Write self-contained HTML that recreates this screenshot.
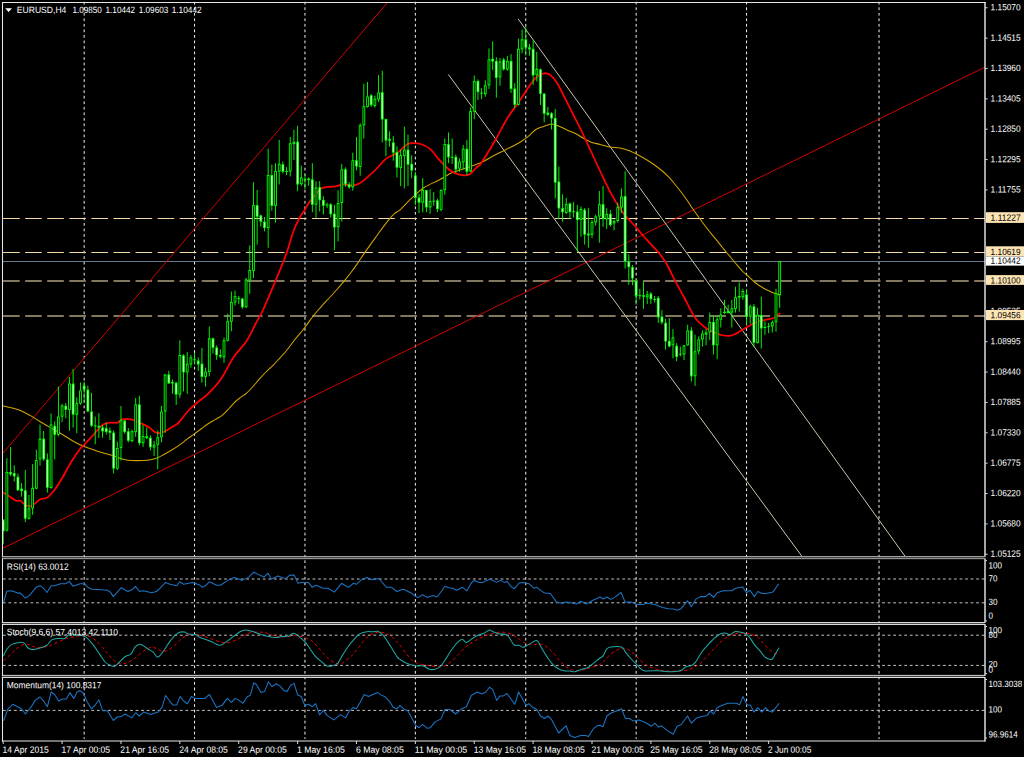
<!DOCTYPE html><html><head><meta charset="utf-8"><title>EURUSD,H4</title>
<style>html,body{margin:0;padding:0;background:#000;overflow:hidden}svg{display:block}text{font-family:"Liberation Sans",sans-serif;text-rendering:geometricPrecision}</style></head><body>
<svg width="1024" height="757" viewBox="0 0 1024 757">
<rect width="1024" height="757" fill="#000"/>
<line x1="84.16" y1="1.80" x2="84.16" y2="739.00" stroke="#ffffff" stroke-width="0.95" stroke-dasharray="2.77 2.76"/>
<line x1="194.56" y1="1.80" x2="194.56" y2="739.00" stroke="#ffffff" stroke-width="0.95" stroke-dasharray="2.77 2.76"/>
<line x1="304.96" y1="1.80" x2="304.96" y2="739.00" stroke="#ffffff" stroke-width="0.95" stroke-dasharray="2.77 2.76"/>
<line x1="415.36" y1="1.80" x2="415.36" y2="739.00" stroke="#ffffff" stroke-width="0.95" stroke-dasharray="2.77 2.76"/>
<line x1="525.76" y1="1.80" x2="525.76" y2="739.00" stroke="#ffffff" stroke-width="0.95" stroke-dasharray="2.77 2.76"/>
<line x1="636.16" y1="1.80" x2="636.16" y2="739.00" stroke="#ffffff" stroke-width="0.95" stroke-dasharray="2.77 2.76"/>
<line x1="746.56" y1="1.80" x2="746.56" y2="739.00" stroke="#ffffff" stroke-width="0.95" stroke-dasharray="2.77 2.76"/>
<line x1="879.04" y1="1.80" x2="879.04" y2="739.00" stroke="#ffffff" stroke-width="0.95" stroke-dasharray="2.77 2.76"/>
<line x1="2.90" y1="579.00" x2="985.00" y2="579.00" stroke="#cfcfcf" stroke-width="0.95" stroke-dasharray="2.77 2.76"/>
<line x1="2.90" y1="602.80" x2="985.00" y2="602.80" stroke="#cfcfcf" stroke-width="0.95" stroke-dasharray="2.77 2.76"/>
<line x1="2.90" y1="635.20" x2="985.00" y2="635.20" stroke="#cfcfcf" stroke-width="0.95" stroke-dasharray="2.77 2.76"/>
<line x1="2.90" y1="665.40" x2="985.00" y2="665.40" stroke="#cfcfcf" stroke-width="0.95" stroke-dasharray="2.77 2.76"/>
<line x1="2.90" y1="710.40" x2="985.00" y2="710.40" stroke="#cfcfcf" stroke-width="0.95" stroke-dasharray="2.77 2.76"/>
<line x1="3.10" y1="218.50" x2="985.00" y2="218.50" stroke="#f5d9a4" stroke-width="1.1" stroke-dasharray="16.6 5.47"/>
<line x1="3.10" y1="252.50" x2="985.00" y2="252.50" stroke="#f5d9a4" stroke-width="1.1" stroke-dasharray="16.6 5.47"/>
<line x1="2.90" y1="261.50" x2="985.00" y2="261.50" stroke="#66788c" stroke-width="1.2"/>
<line x1="3.10" y1="281.00" x2="985.00" y2="281.00" stroke="#82775f" stroke-width="2.0" stroke-dasharray="16.6 5.47"/>
<line x1="3.10" y1="316.00" x2="985.00" y2="316.00" stroke="#82775f" stroke-width="2.0" stroke-dasharray="16.6 5.47"/>
<clipPath id="cm"><rect x="2.9" y="2.4" width="982" height="554"/></clipPath>
<g clip-path="url(#cm)">
<line x1="3.00" y1="548.20" x2="984.40" y2="67.40" stroke="#d40000" stroke-width="1.0"/>
<line x1="3.00" y1="453.20" x2="387.40" y2="2.60" stroke="#d40000" stroke-width="1.0"/>
<line x1="448.20" y1="74.30" x2="801.90" y2="556.30" stroke="#c9c6ac" stroke-width="1.0"/>
<line x1="518.20" y1="19.00" x2="905.00" y2="556.20" stroke="#c9c6ac" stroke-width="1.0"/>
<path d="M2.6 405.8 C3.8 406.1 7.0 406.6 10.0 407.4 C13.0 408.2 17.1 409.2 20.4 410.5 C23.7 411.8 26.8 413.6 30.0 415.4 C33.2 417.2 36.3 419.4 39.5 421.3 C42.7 423.2 45.3 424.8 49.0 426.9 C52.7 429.0 57.0 431.2 61.7 434.0 C66.5 436.8 72.2 440.9 77.5 443.5 C82.8 446.1 89.3 448.3 93.4 449.8 C97.5 451.3 98.8 451.6 102.0 452.5 C105.2 453.4 109.6 454.5 112.7 455.5 C115.8 456.5 118.1 457.8 120.6 458.6 C123.1 459.4 125.0 459.9 127.7 460.2 C130.4 460.5 133.7 460.6 137.0 460.6 C140.3 460.6 144.4 460.5 147.5 460.2 C150.6 459.9 152.8 459.5 155.5 458.6 C158.2 457.7 160.8 456.2 163.4 454.8 C166.0 453.4 168.5 452.0 171.3 450.3 C174.1 448.6 177.4 446.5 180.0 444.6 C182.6 442.8 184.6 441.0 187.0 439.2 C189.4 437.4 192.0 435.6 194.3 433.9 C196.6 432.2 198.6 430.7 201.0 429.0 C203.4 427.3 206.1 425.1 208.5 423.5 C210.9 421.9 213.1 420.8 215.5 419.4 C217.9 417.9 220.6 416.6 222.8 414.8 C225.1 413.0 226.9 410.7 229.0 408.5 C231.1 406.3 233.5 403.4 235.5 401.5 C237.5 399.6 239.2 398.6 241.0 397.2 C242.8 395.8 244.6 395.0 246.6 393.2 C248.6 391.4 250.9 388.8 253.0 386.5 C255.1 384.2 257.1 381.6 259.3 379.2 C261.5 376.8 263.6 374.4 266.0 372.0 C268.4 369.6 271.1 367.3 273.5 364.9 C275.9 362.4 278.1 359.9 280.5 357.3 C282.9 354.7 285.5 351.9 287.8 349.0 C290.1 346.1 292.0 343.2 294.5 340.0 C297.0 336.8 299.8 334.0 302.9 330.0 C306.0 326.0 310.3 319.8 313.3 315.9 C316.3 312.0 318.4 309.8 321.0 306.8 C323.6 303.8 326.6 300.8 329.2 298.0 C331.8 295.2 334.0 292.8 336.5 290.0 C339.0 287.2 341.6 284.2 344.1 281.2 C346.6 278.2 349.0 275.1 351.5 271.8 C354.0 268.5 356.7 264.6 358.9 261.4 C361.1 258.2 361.6 257.1 364.9 252.4 C368.1 247.8 374.6 238.8 378.4 233.5 C382.2 228.2 385.1 224.2 387.9 220.8 C390.7 217.4 393.0 215.0 395.0 213.2 C397.0 211.4 397.1 212.5 400.0 209.8 C402.9 207.1 408.7 200.9 412.7 197.2 C416.7 193.5 419.3 190.6 423.8 187.7 C428.3 184.8 434.9 182.2 439.6 179.7 C444.4 177.2 447.8 174.6 452.3 172.6 C456.8 170.6 462.0 169.4 466.6 167.8 C471.2 166.2 475.3 165.1 480.0 163.0 C484.7 160.9 490.0 157.6 495.0 155.0 C500.0 152.4 505.8 149.6 510.0 147.5 C514.2 145.4 517.0 144.0 520.0 142.2 C523.0 140.4 525.4 138.8 528.0 136.7 C530.6 134.6 533.2 131.2 535.8 129.5 C538.4 127.8 541.1 127.3 543.8 126.4 C546.4 125.5 549.1 124.0 551.7 124.0 C554.3 124.0 557.0 125.4 559.6 126.4 C562.2 127.5 564.9 129.1 567.5 130.3 C570.1 131.5 572.9 132.2 575.5 133.5 C578.1 134.8 580.8 136.9 583.4 138.3 C586.0 139.8 588.5 141.2 591.3 142.2 C594.1 143.2 597.1 143.6 600.2 144.4 C603.3 145.2 606.4 146.5 609.7 147.1 C613.0 147.7 616.6 147.3 620.0 148.0 C623.4 148.7 626.7 149.7 630.0 151.0 C633.3 152.3 637.2 154.5 640.0 156.0 C642.8 157.5 644.1 158.2 647.0 160.0 C649.9 161.8 653.7 164.2 657.3 167.0 C660.9 169.8 665.2 173.4 668.4 176.6 C671.6 179.8 673.5 182.6 676.3 186.0 C679.1 189.4 682.5 193.8 685.0 197.2 C687.5 200.6 688.9 203.2 691.0 206.3 C693.1 209.4 695.4 212.4 697.7 215.7 C700.0 218.9 702.5 222.5 705.0 225.8 C707.5 229.1 710.6 233.0 712.8 235.7 C715.0 238.4 716.4 239.8 718.0 241.8 C719.6 243.8 720.9 245.6 722.5 247.5 C724.1 249.4 725.5 251.1 727.5 253.5 C729.5 255.9 732.0 259.1 734.5 262.0 C737.0 264.9 740.0 268.7 742.3 271.0 C744.5 273.3 745.9 274.1 748.0 276.0 C750.1 277.9 752.2 280.4 755.0 282.5 C757.8 284.6 761.4 287.0 764.6 288.8 C767.8 290.6 771.6 292.0 774.1 293.1 C776.6 294.2 778.8 294.9 779.7 295.2" fill="none" stroke="#d2a400" stroke-width="1.05" stroke-linejoin="round"/>
<path d="M3.0 492.6 C4.1 493.3 7.4 495.3 9.5 496.6 C11.6 497.9 14.0 499.8 15.8 500.5 C17.7 501.2 18.9 500.2 20.6 501.0 C22.3 501.8 24.1 504.5 26.0 505.3 C27.9 506.1 29.4 506.9 31.7 506.0 C34.0 505.1 37.0 501.1 39.6 499.7 C42.2 498.3 44.9 499.2 47.5 497.4 C50.1 495.5 52.9 492.2 55.5 488.6 C58.1 485.0 60.8 480.5 63.4 476.0 C66.0 471.5 68.5 466.2 71.3 461.7 C74.1 457.2 77.9 451.8 80.0 449.0 C82.1 446.2 81.7 447.4 83.9 445.0 C86.1 442.6 90.5 438.0 93.4 434.8 C96.3 431.6 99.2 427.7 101.3 425.8 C103.4 423.9 104.5 423.7 106.3 423.2 C108.1 422.7 110.2 422.7 112.0 422.6 C113.8 422.5 115.7 423.1 117.4 422.6 C119.1 422.1 120.4 420.0 122.2 419.4 C124.0 418.8 126.2 419.1 128.0 419.2 C129.8 419.3 131.1 419.3 133.3 420.0 C135.5 420.7 138.6 422.2 141.2 423.4 C143.8 424.6 146.8 426.0 149.1 427.4 C151.3 428.8 153.0 431.0 154.7 432.0 C156.4 433.0 157.7 433.3 159.4 433.2 C161.1 433.1 163.0 432.3 165.0 431.3 C167.0 430.3 169.3 428.6 171.3 427.4 C173.3 426.2 175.5 425.3 176.9 424.2 C178.3 423.1 178.0 423.4 180.0 421.0 C182.0 418.6 186.0 413.2 189.0 410.0 C192.0 406.8 194.8 404.7 198.0 402.0 C201.2 399.3 204.2 397.6 208.0 393.8 C211.8 390.1 216.5 385.6 220.7 379.5 C224.9 373.4 229.4 363.3 233.4 357.4 C237.4 351.5 241.7 347.6 244.5 343.9 C247.3 340.2 248.1 338.7 250.0 335.2 C251.9 331.7 253.8 327.2 256.0 323.0 C258.2 318.8 259.7 317.1 263.0 310.0 C266.3 302.9 271.7 289.9 275.7 280.3 C279.7 270.7 283.9 260.6 286.8 252.6 C289.7 244.5 290.9 237.9 293.1 232.0 C295.3 226.1 298.0 220.7 300.0 217.0 C302.0 213.3 303.6 212.1 305.0 209.8 C306.4 207.6 306.8 205.9 308.4 203.5 C310.0 201.1 312.5 198.1 314.7 195.6 C316.9 193.1 319.1 190.0 321.3 188.5 C323.5 187.0 325.6 187.2 328.0 186.8 C330.4 186.4 333.0 186.7 335.6 186.3 C338.2 185.9 341.1 184.6 343.5 184.4 C345.9 184.2 348.1 185.3 350.0 185.4 C351.9 185.5 352.9 185.6 354.6 185.2 C356.3 184.8 358.1 184.1 360.0 183.0 C361.9 181.9 362.9 181.2 365.7 178.8 C368.5 176.4 373.6 171.7 376.8 168.5 C380.0 165.3 382.2 162.0 384.7 159.8 C387.2 157.6 389.7 156.8 392.0 155.5 C394.3 154.2 396.6 153.3 398.6 151.9 C400.6 150.5 402.4 148.3 404.0 147.0 C405.6 145.7 406.6 144.4 408.1 143.8 C409.6 143.2 410.8 143.2 412.9 143.2 C415.0 143.2 417.8 143.1 420.6 144.0 C423.5 144.9 427.1 146.4 430.0 148.8 C432.9 151.2 435.3 155.3 438.0 158.3 C440.7 161.3 443.4 164.6 446.0 167.0 C448.6 169.4 451.0 171.2 453.9 172.6 C456.8 174.0 460.8 175.0 463.4 175.3 C466.0 175.6 467.6 175.4 469.7 174.2 C471.8 172.9 474.3 169.4 476.0 167.8 C477.7 166.2 478.2 167.0 480.0 164.7 C481.8 162.4 484.4 158.1 487.0 154.0 C489.6 149.9 492.0 145.9 495.4 140.0 C498.8 134.1 503.5 124.6 507.3 118.3 C511.1 112.0 515.0 107.4 518.4 102.4 C521.8 97.4 525.5 91.7 527.9 88.1 C530.3 84.5 531.4 82.9 533.0 81.0 C534.6 79.1 535.6 77.8 537.4 76.5 C539.2 75.2 541.7 73.6 543.8 73.3 C545.9 73.0 548.0 73.5 550.1 74.9 C552.2 76.4 554.1 78.3 556.5 82.0 C558.9 85.7 561.5 91.3 564.4 97.0 C567.3 102.7 570.7 109.7 573.9 116.0 C577.1 122.3 580.0 127.8 583.4 135.0 C586.8 142.2 591.2 151.8 594.5 159.0 C597.8 166.2 600.6 172.2 603.4 178.0 C606.2 183.8 608.4 188.6 611.3 193.9 C614.2 199.2 617.9 205.8 620.8 210.0 C623.7 214.2 626.1 216.4 628.8 219.4 C631.4 222.4 633.8 224.8 636.7 228.1 C639.6 231.4 642.8 235.4 646.2 239.2 C649.6 243.0 654.0 247.2 657.3 251.1 C660.6 255.0 663.0 257.6 666.0 262.7 C669.0 267.8 672.6 276.1 675.5 281.7 C678.4 287.2 680.7 291.0 683.4 296.0 C686.1 301.0 689.6 308.0 691.5 311.5 C693.4 315.0 693.1 315.1 694.5 317.0 C695.9 318.9 697.4 320.8 699.6 322.8 C701.8 324.8 704.9 327.4 707.5 329.1 C710.1 330.8 712.9 332.0 715.5 333.1 C718.1 334.2 721.0 335.1 723.4 335.5 C725.8 335.9 727.6 336.1 729.7 335.8 C731.8 335.5 734.1 334.4 736.0 333.6 C737.9 332.8 738.7 332.1 740.8 330.8 C742.9 329.5 746.1 327.5 748.8 326.0 C751.4 324.5 753.8 323.1 756.7 322.0 C759.6 320.9 763.3 320.4 766.2 319.7 C769.1 319.0 771.9 318.9 774.1 317.8 C776.4 316.8 778.8 314.1 779.7 313.4" fill="none" stroke="#ff0000" stroke-width="1.75" stroke-linejoin="round" stroke-linecap="round"/>
<rect x="2.74" y="519.5" width="0.92" height="24.6" fill="#00ff00"/>
<rect x="1.82" y="519.5" width="2.76" height="11.9" fill="#00ff00"/>
<rect x="2.74" y="520.5" width="0.92" height="10.0" fill="#f0fff0"/>
<rect x="6.42" y="458.2" width="0.92" height="73.2" fill="#00ff00"/>
<rect x="5.50" y="472.0" width="2.76" height="58.6" fill="#00ff00"/>
<rect x="6.42" y="472.9" width="0.92" height="56.8" fill="#000"/>
<rect x="10.10" y="447.1" width="0.92" height="28.8" fill="#00ff00"/>
<rect x="9.18" y="472.0" width="2.76" height="2.4" fill="#00ff00"/>
<rect x="10.10" y="472.9" width="0.92" height="0.5" fill="#f0fff0"/>
<rect x="13.78" y="465.2" width="0.92" height="16.3" fill="#00ff00"/>
<rect x="12.86" y="473.1" width="2.76" height="3.2" fill="#00ff00"/>
<rect x="13.78" y="474.0" width="0.92" height="1.3" fill="#f0fff0"/>
<rect x="17.46" y="473.6" width="0.92" height="17.4" fill="#00ff00"/>
<rect x="16.54" y="476.8" width="2.76" height="13.5" fill="#00ff00"/>
<rect x="17.46" y="477.7" width="0.92" height="11.6" fill="#f0fff0"/>
<rect x="21.14" y="483.1" width="0.92" height="13.5" fill="#00ff00"/>
<rect x="20.22" y="488.6" width="2.76" height="2.4" fill="#00ff00"/>
<rect x="21.14" y="489.6" width="0.92" height="0.5" fill="#f0fff0"/>
<rect x="24.82" y="469.9" width="0.92" height="52.3" fill="#00ff00"/>
<rect x="23.90" y="490.2" width="2.76" height="28.5" fill="#00ff00"/>
<rect x="24.82" y="491.1" width="0.92" height="26.7" fill="#f0fff0"/>
<rect x="28.50" y="495.0" width="0.92" height="24.6" fill="#00ff00"/>
<rect x="27.58" y="508.4" width="2.76" height="10.3" fill="#00ff00"/>
<rect x="28.50" y="509.4" width="0.92" height="8.5" fill="#000"/>
<rect x="32.18" y="464.1" width="0.92" height="50.7" fill="#00ff00"/>
<rect x="31.26" y="487.8" width="2.76" height="20.6" fill="#00ff00"/>
<rect x="32.18" y="488.8" width="0.92" height="18.8" fill="#000"/>
<rect x="35.86" y="449.8" width="0.92" height="39.6" fill="#00ff00"/>
<rect x="34.94" y="460.1" width="2.76" height="28.5" fill="#00ff00"/>
<rect x="35.86" y="461.0" width="0.92" height="26.7" fill="#000"/>
<rect x="39.54" y="424.5" width="0.92" height="41.2" fill="#00ff00"/>
<rect x="38.62" y="438.7" width="2.76" height="20.6" fill="#00ff00"/>
<rect x="39.54" y="439.7" width="0.92" height="18.8" fill="#000"/>
<rect x="43.22" y="430.8" width="0.92" height="30.1" fill="#00ff00"/>
<rect x="42.30" y="438.7" width="2.76" height="20.6" fill="#00ff00"/>
<rect x="43.22" y="439.7" width="0.92" height="18.8" fill="#f0fff0"/>
<rect x="46.90" y="453.5" width="0.92" height="39.1" fill="#00ff00"/>
<rect x="45.98" y="459.3" width="2.76" height="28.5" fill="#00ff00"/>
<rect x="46.90" y="460.2" width="0.92" height="26.7" fill="#f0fff0"/>
<rect x="50.58" y="413.4" width="0.92" height="75.3" fill="#00ff00"/>
<rect x="49.66" y="424.5" width="2.76" height="63.4" fill="#00ff00"/>
<rect x="50.58" y="425.4" width="0.92" height="61.6" fill="#000"/>
<rect x="54.26" y="421.3" width="0.92" height="38.0" fill="#00ff00"/>
<rect x="53.34" y="425.8" width="2.76" height="9.0" fill="#00ff00"/>
<rect x="54.26" y="426.7" width="0.92" height="7.2" fill="#f0fff0"/>
<rect x="57.94" y="386.5" width="0.92" height="49.9" fill="#00ff00"/>
<rect x="57.02" y="416.6" width="2.76" height="18.2" fill="#00ff00"/>
<rect x="57.94" y="417.5" width="0.92" height="16.4" fill="#000"/>
<rect x="61.62" y="403.9" width="0.92" height="18.2" fill="#00ff00"/>
<rect x="60.70" y="405.5" width="2.76" height="11.1" fill="#00ff00"/>
<rect x="61.62" y="406.4" width="0.92" height="9.3" fill="#000"/>
<rect x="65.30" y="403.1" width="0.92" height="15.1" fill="#00ff00"/>
<rect x="64.38" y="405.8" width="2.76" height="4.1" fill="#00ff00"/>
<rect x="65.30" y="406.7" width="0.92" height="2.3" fill="#f0fff0"/>
<rect x="68.98" y="376.9" width="0.92" height="53.9" fill="#00ff00"/>
<rect x="68.06" y="383.6" width="2.76" height="26.3" fill="#00ff00"/>
<rect x="68.98" y="384.5" width="0.92" height="24.5" fill="#000"/>
<rect x="72.66" y="369.0" width="0.92" height="58.6" fill="#00ff00"/>
<rect x="71.74" y="383.6" width="2.76" height="31.1" fill="#00ff00"/>
<rect x="72.66" y="384.5" width="0.92" height="29.2" fill="#f0fff0"/>
<rect x="76.34" y="397.2" width="0.92" height="36.0" fill="#00ff00"/>
<rect x="75.42" y="403.1" width="2.76" height="11.6" fill="#00ff00"/>
<rect x="76.34" y="404.0" width="0.92" height="9.7" fill="#000"/>
<rect x="80.02" y="382.5" width="0.92" height="22.2" fill="#00ff00"/>
<rect x="79.10" y="390.4" width="2.76" height="13.2" fill="#00ff00"/>
<rect x="80.02" y="391.3" width="0.92" height="11.3" fill="#000"/>
<rect x="83.70" y="381.7" width="0.92" height="21.4" fill="#00ff00"/>
<rect x="82.78" y="385.7" width="2.76" height="4.0" fill="#00ff00"/>
<rect x="83.70" y="386.6" width="0.92" height="2.1" fill="#f0fff0"/>
<rect x="87.38" y="385.7" width="0.92" height="26.1" fill="#00ff00"/>
<rect x="86.46" y="389.6" width="2.76" height="21.9" fill="#00ff00"/>
<rect x="87.38" y="390.5" width="0.92" height="20.0" fill="#f0fff0"/>
<rect x="91.06" y="392.8" width="0.92" height="34.1" fill="#00ff00"/>
<rect x="90.14" y="411.5" width="2.76" height="14.3" fill="#00ff00"/>
<rect x="91.06" y="412.4" width="0.92" height="12.4" fill="#f0fff0"/>
<rect x="94.74" y="416.6" width="0.92" height="27.7" fill="#00ff00"/>
<rect x="93.82" y="425.3" width="2.76" height="1.1" fill="#00ff00"/>
<rect x="98.42" y="413.1" width="0.92" height="24.9" fill="#00ff00"/>
<rect x="97.50" y="425.8" width="2.76" height="1.9" fill="#00ff00"/>
<rect x="102.10" y="425.0" width="0.92" height="12.7" fill="#00ff00"/>
<rect x="101.18" y="427.4" width="2.76" height="4.0" fill="#00ff00"/>
<rect x="102.10" y="428.3" width="0.92" height="2.1" fill="#f0fff0"/>
<rect x="105.78" y="422.6" width="0.92" height="11.9" fill="#00ff00"/>
<rect x="104.86" y="428.1" width="2.76" height="4.0" fill="#00ff00"/>
<rect x="105.78" y="429.1" width="0.92" height="2.1" fill="#f0fff0"/>
<rect x="109.46" y="427.4" width="0.92" height="12.7" fill="#00ff00"/>
<rect x="108.54" y="430.5" width="2.76" height="2.4" fill="#00ff00"/>
<rect x="109.46" y="431.4" width="0.92" height="0.5" fill="#f0fff0"/>
<rect x="113.14" y="430.5" width="0.92" height="42.8" fill="#00ff00"/>
<rect x="112.22" y="432.6" width="2.76" height="36.0" fill="#00ff00"/>
<rect x="113.14" y="433.5" width="0.92" height="34.1" fill="#f0fff0"/>
<rect x="116.82" y="441.6" width="0.92" height="28.5" fill="#00ff00"/>
<rect x="115.90" y="448.0" width="2.76" height="20.6" fill="#00ff00"/>
<rect x="116.82" y="448.9" width="0.92" height="18.8" fill="#000"/>
<rect x="120.50" y="406.0" width="0.92" height="54.7" fill="#00ff00"/>
<rect x="119.58" y="420.2" width="2.76" height="27.7" fill="#00ff00"/>
<rect x="120.50" y="421.1" width="0.92" height="25.9" fill="#000"/>
<rect x="124.18" y="420.2" width="0.92" height="13.5" fill="#00ff00"/>
<rect x="123.26" y="420.5" width="2.76" height="11.6" fill="#00ff00"/>
<rect x="124.18" y="421.5" width="0.92" height="9.7" fill="#f0fff0"/>
<rect x="127.86" y="428.1" width="0.92" height="14.3" fill="#00ff00"/>
<rect x="126.94" y="431.3" width="2.76" height="9.5" fill="#00ff00"/>
<rect x="127.86" y="432.2" width="0.92" height="7.7" fill="#f0fff0"/>
<rect x="131.54" y="429.7" width="0.92" height="12.7" fill="#00ff00"/>
<rect x="130.62" y="431.3" width="2.76" height="9.8" fill="#00ff00"/>
<rect x="131.54" y="432.2" width="0.92" height="8.0" fill="#000"/>
<rect x="135.22" y="398.0" width="0.92" height="38.8" fill="#00ff00"/>
<rect x="134.30" y="404.4" width="2.76" height="27.7" fill="#00ff00"/>
<rect x="135.22" y="405.3" width="0.92" height="25.9" fill="#000"/>
<rect x="138.90" y="395.7" width="0.92" height="49.9" fill="#00ff00"/>
<rect x="137.98" y="404.4" width="2.76" height="38.8" fill="#00ff00"/>
<rect x="138.90" y="405.3" width="0.92" height="37.0" fill="#f0fff0"/>
<rect x="142.58" y="425.0" width="0.92" height="21.9" fill="#00ff00"/>
<rect x="141.66" y="436.1" width="2.76" height="7.1" fill="#00ff00"/>
<rect x="142.58" y="437.0" width="0.92" height="5.3" fill="#000"/>
<rect x="146.26" y="427.4" width="0.92" height="11.9" fill="#00ff00"/>
<rect x="145.34" y="436.1" width="2.76" height="1.9" fill="#00ff00"/>
<rect x="149.94" y="435.3" width="0.92" height="15.1" fill="#00ff00"/>
<rect x="149.02" y="437.7" width="2.76" height="9.5" fill="#00ff00"/>
<rect x="149.94" y="438.6" width="0.92" height="7.7" fill="#f0fff0"/>
<rect x="153.62" y="440.8" width="0.92" height="15.1" fill="#00ff00"/>
<rect x="152.70" y="444.8" width="2.76" height="2.7" fill="#00ff00"/>
<rect x="153.62" y="445.7" width="0.92" height="0.9" fill="#000"/>
<rect x="157.30" y="430.5" width="0.92" height="38.8" fill="#00ff00"/>
<rect x="156.38" y="437.3" width="2.76" height="7.4" fill="#00ff00"/>
<rect x="157.30" y="438.3" width="0.92" height="5.6" fill="#000"/>
<rect x="160.98" y="406.0" width="0.92" height="36.1" fill="#00ff00"/>
<rect x="160.06" y="411.5" width="2.76" height="25.8" fill="#00ff00"/>
<rect x="160.98" y="412.4" width="0.92" height="24.0" fill="#000"/>
<rect x="164.66" y="373.9" width="0.92" height="59.0" fill="#00ff00"/>
<rect x="163.74" y="374.6" width="2.76" height="36.9" fill="#00ff00"/>
<rect x="164.66" y="375.5" width="0.92" height="35.1" fill="#000"/>
<rect x="168.34" y="370.8" width="0.92" height="13.0" fill="#00ff00"/>
<rect x="167.42" y="374.3" width="2.76" height="9.2" fill="#00ff00"/>
<rect x="168.34" y="375.2" width="0.92" height="7.4" fill="#f0fff0"/>
<rect x="172.02" y="379.5" width="0.92" height="14.3" fill="#00ff00"/>
<rect x="171.10" y="381.9" width="2.76" height="1.6" fill="#00ff00"/>
<rect x="175.70" y="381.9" width="0.92" height="23.0" fill="#00ff00"/>
<rect x="174.78" y="382.7" width="2.76" height="11.9" fill="#00ff00"/>
<rect x="175.70" y="383.6" width="0.92" height="10.0" fill="#f0fff0"/>
<rect x="179.38" y="340.4" width="0.92" height="57.4" fill="#00ff00"/>
<rect x="178.46" y="355.0" width="2.76" height="39.6" fill="#00ff00"/>
<rect x="179.38" y="355.9" width="0.92" height="37.8" fill="#000"/>
<rect x="183.06" y="354.2" width="0.92" height="37.2" fill="#00ff00"/>
<rect x="182.14" y="355.3" width="2.76" height="17.1" fill="#00ff00"/>
<rect x="183.06" y="356.2" width="0.92" height="15.3" fill="#f0fff0"/>
<rect x="186.74" y="352.1" width="0.92" height="41.7" fill="#00ff00"/>
<rect x="185.82" y="363.7" width="2.76" height="8.7" fill="#00ff00"/>
<rect x="186.74" y="364.6" width="0.92" height="6.9" fill="#000"/>
<rect x="190.42" y="355.0" width="0.92" height="12.7" fill="#00ff00"/>
<rect x="189.50" y="357.4" width="2.76" height="7.1" fill="#00ff00"/>
<rect x="190.42" y="358.3" width="0.92" height="5.3" fill="#000"/>
<rect x="194.10" y="352.6" width="0.92" height="11.9" fill="#00ff00"/>
<rect x="193.18" y="359.3" width="2.76" height="0.95" fill="#00ff00"/>
<rect x="197.78" y="357.4" width="0.92" height="13.5" fill="#00ff00"/>
<rect x="196.86" y="360.5" width="2.76" height="4.0" fill="#00ff00"/>
<rect x="197.78" y="361.4" width="0.92" height="2.1" fill="#f0fff0"/>
<rect x="201.46" y="347.8" width="0.92" height="34.9" fill="#00ff00"/>
<rect x="200.54" y="363.7" width="2.76" height="13.2" fill="#00ff00"/>
<rect x="201.46" y="364.6" width="0.92" height="11.3" fill="#f0fff0"/>
<rect x="205.14" y="367.7" width="0.92" height="19.0" fill="#00ff00"/>
<rect x="204.22" y="371.6" width="2.76" height="5.2" fill="#00ff00"/>
<rect x="205.14" y="372.5" width="0.92" height="3.4" fill="#000"/>
<rect x="208.82" y="326.5" width="0.92" height="49.9" fill="#00ff00"/>
<rect x="207.90" y="338.3" width="2.76" height="33.8" fill="#00ff00"/>
<rect x="208.82" y="339.3" width="0.92" height="31.9" fill="#000"/>
<rect x="212.50" y="337.5" width="0.92" height="15.8" fill="#00ff00"/>
<rect x="211.58" y="338.3" width="2.76" height="9.5" fill="#00ff00"/>
<rect x="212.50" y="339.3" width="0.92" height="7.7" fill="#f0fff0"/>
<rect x="216.18" y="345.5" width="0.92" height="14.3" fill="#00ff00"/>
<rect x="215.26" y="347.4" width="2.76" height="7.9" fill="#00ff00"/>
<rect x="216.18" y="348.3" width="0.92" height="6.1" fill="#f0fff0"/>
<rect x="219.86" y="349.4" width="0.92" height="8.7" fill="#00ff00"/>
<rect x="218.94" y="355.0" width="2.76" height="1.6" fill="#00ff00"/>
<rect x="223.54" y="337.5" width="0.92" height="25.4" fill="#00ff00"/>
<rect x="222.62" y="340.4" width="2.76" height="17.0" fill="#00ff00"/>
<rect x="223.54" y="341.3" width="0.92" height="15.1" fill="#000"/>
<rect x="227.22" y="313.8" width="0.92" height="27.7" fill="#00ff00"/>
<rect x="226.30" y="321.2" width="2.76" height="19.5" fill="#00ff00"/>
<rect x="227.22" y="322.1" width="0.92" height="17.7" fill="#000"/>
<rect x="230.90" y="291.6" width="0.92" height="39.6" fill="#00ff00"/>
<rect x="229.98" y="301.9" width="2.76" height="19.8" fill="#00ff00"/>
<rect x="230.90" y="302.8" width="0.92" height="18.0" fill="#000"/>
<rect x="234.58" y="290.6" width="0.92" height="15.1" fill="#00ff00"/>
<rect x="233.66" y="296.2" width="2.76" height="6.3" fill="#00ff00"/>
<rect x="234.58" y="297.1" width="0.92" height="4.5" fill="#000"/>
<rect x="238.26" y="295.9" width="0.92" height="8.2" fill="#00ff00"/>
<rect x="237.34" y="298.1" width="2.76" height="0.95" fill="#00ff00"/>
<rect x="241.94" y="297.8" width="0.92" height="11.1" fill="#00ff00"/>
<rect x="241.02" y="298.6" width="2.76" height="8.7" fill="#00ff00"/>
<rect x="241.94" y="299.5" width="0.92" height="6.9" fill="#f0fff0"/>
<rect x="245.62" y="278.0" width="0.92" height="30.1" fill="#00ff00"/>
<rect x="244.70" y="279.5" width="2.76" height="27.7" fill="#00ff00"/>
<rect x="245.62" y="280.5" width="0.92" height="25.9" fill="#000"/>
<rect x="249.30" y="245.5" width="0.92" height="48.3" fill="#00ff00"/>
<rect x="248.38" y="270.0" width="2.76" height="10.3" fill="#00ff00"/>
<rect x="249.30" y="271.0" width="0.92" height="8.5" fill="#000"/>
<rect x="252.98" y="182.1" width="0.92" height="95.9" fill="#00ff00"/>
<rect x="252.06" y="205.1" width="2.76" height="65.8" fill="#00ff00"/>
<rect x="252.98" y="206.0" width="0.92" height="63.9" fill="#000"/>
<rect x="256.66" y="190.0" width="0.92" height="54.7" fill="#00ff00"/>
<rect x="255.74" y="205.1" width="2.76" height="11.7" fill="#00ff00"/>
<rect x="256.66" y="206.0" width="0.92" height="9.9" fill="#f0fff0"/>
<rect x="260.34" y="214.6" width="0.92" height="11.9" fill="#00ff00"/>
<rect x="259.42" y="215.4" width="2.76" height="6.3" fill="#00ff00"/>
<rect x="260.34" y="216.3" width="0.92" height="4.5" fill="#f0fff0"/>
<rect x="264.02" y="217.0" width="0.92" height="14.3" fill="#00ff00"/>
<rect x="263.10" y="221.7" width="2.76" height="6.3" fill="#00ff00"/>
<rect x="264.02" y="222.6" width="0.92" height="4.5" fill="#f0fff0"/>
<rect x="267.70" y="148.8" width="0.92" height="99.0" fill="#00ff00"/>
<rect x="266.78" y="175.0" width="2.76" height="53.1" fill="#00ff00"/>
<rect x="267.70" y="175.9" width="0.92" height="51.3" fill="#000"/>
<rect x="271.38" y="164.7" width="0.92" height="46.0" fill="#00ff00"/>
<rect x="270.46" y="175.0" width="2.76" height="30.9" fill="#00ff00"/>
<rect x="271.38" y="175.9" width="0.92" height="29.1" fill="#f0fff0"/>
<rect x="275.06" y="163.1" width="0.92" height="59.4" fill="#00ff00"/>
<rect x="274.14" y="171.0" width="2.76" height="34.9" fill="#00ff00"/>
<rect x="275.06" y="171.9" width="0.92" height="33.0" fill="#000"/>
<rect x="278.74" y="139.8" width="0.92" height="44.7" fill="#00ff00"/>
<rect x="277.82" y="163.9" width="2.76" height="7.6" fill="#00ff00"/>
<rect x="278.74" y="164.8" width="0.92" height="5.8" fill="#000"/>
<rect x="282.42" y="161.5" width="0.92" height="11.9" fill="#00ff00"/>
<rect x="281.50" y="164.2" width="2.76" height="7.6" fill="#00ff00"/>
<rect x="282.42" y="165.1" width="0.92" height="5.8" fill="#f0fff0"/>
<rect x="286.10" y="167.1" width="0.92" height="7.9" fill="#00ff00"/>
<rect x="285.18" y="171.0" width="2.76" height="0.95" fill="#00ff00"/>
<rect x="289.78" y="136.9" width="0.92" height="39.6" fill="#00ff00"/>
<rect x="288.86" y="143.3" width="2.76" height="28.2" fill="#00ff00"/>
<rect x="289.78" y="144.2" width="0.92" height="26.4" fill="#000"/>
<rect x="293.46" y="129.8" width="0.92" height="30.1" fill="#00ff00"/>
<rect x="292.54" y="141.7" width="2.76" height="2.4" fill="#00ff00"/>
<rect x="293.46" y="142.6" width="0.92" height="0.5" fill="#000"/>
<rect x="297.14" y="125.8" width="0.92" height="65.3" fill="#00ff00"/>
<rect x="296.22" y="141.7" width="2.76" height="42.8" fill="#00ff00"/>
<rect x="297.14" y="142.6" width="0.92" height="40.9" fill="#f0fff0"/>
<rect x="300.82" y="165.5" width="0.92" height="20.3" fill="#00ff00"/>
<rect x="299.90" y="177.4" width="2.76" height="6.8" fill="#00ff00"/>
<rect x="300.82" y="178.3" width="0.92" height="5.0" fill="#000"/>
<rect x="304.50" y="174.2" width="0.92" height="15.1" fill="#00ff00"/>
<rect x="303.58" y="179.3" width="2.76" height="0.95" fill="#00ff00"/>
<rect x="308.18" y="177.4" width="0.92" height="8.4" fill="#00ff00"/>
<rect x="307.26" y="178.5" width="2.76" height="1.6" fill="#00ff00"/>
<rect x="311.86" y="163.1" width="0.92" height="49.1" fill="#00ff00"/>
<rect x="310.94" y="179.4" width="2.76" height="25.4" fill="#00ff00"/>
<rect x="311.86" y="180.3" width="0.92" height="23.5" fill="#f0fff0"/>
<rect x="315.54" y="181.2" width="0.92" height="36.5" fill="#00ff00"/>
<rect x="314.62" y="187.5" width="2.76" height="17.1" fill="#00ff00"/>
<rect x="315.54" y="188.5" width="0.92" height="15.3" fill="#000"/>
<rect x="319.22" y="181.2" width="0.92" height="30.1" fill="#00ff00"/>
<rect x="318.30" y="187.2" width="2.76" height="13.0" fill="#00ff00"/>
<rect x="319.22" y="188.1" width="0.92" height="11.2" fill="#f0fff0"/>
<rect x="322.90" y="196.3" width="0.92" height="18.2" fill="#00ff00"/>
<rect x="321.98" y="199.9" width="2.76" height="5.9" fill="#00ff00"/>
<rect x="322.90" y="200.8" width="0.92" height="4.0" fill="#f0fff0"/>
<rect x="326.58" y="202.6" width="0.92" height="5.5" fill="#00ff00"/>
<rect x="325.66" y="204.5" width="2.76" height="0.95" fill="#00ff00"/>
<rect x="330.26" y="203.1" width="0.92" height="14.6" fill="#00ff00"/>
<rect x="329.34" y="204.2" width="2.76" height="10.0" fill="#00ff00"/>
<rect x="330.26" y="205.1" width="0.92" height="8.1" fill="#f0fff0"/>
<rect x="333.94" y="205.0" width="0.92" height="45.2" fill="#00ff00"/>
<rect x="333.02" y="213.7" width="2.76" height="13.8" fill="#00ff00"/>
<rect x="333.94" y="214.6" width="0.92" height="11.9" fill="#f0fff0"/>
<rect x="337.62" y="190.4" width="0.92" height="51.0" fill="#00ff00"/>
<rect x="336.70" y="203.1" width="2.76" height="24.1" fill="#00ff00"/>
<rect x="337.62" y="204.0" width="0.92" height="22.2" fill="#000"/>
<rect x="341.30" y="163.8" width="0.92" height="57.8" fill="#00ff00"/>
<rect x="340.38" y="169.3" width="2.76" height="33.8" fill="#00ff00"/>
<rect x="341.30" y="170.2" width="0.92" height="31.9" fill="#000"/>
<rect x="344.98" y="167.3" width="0.92" height="19.5" fill="#00ff00"/>
<rect x="344.06" y="169.3" width="2.76" height="15.1" fill="#00ff00"/>
<rect x="344.98" y="170.2" width="0.92" height="13.2" fill="#f0fff0"/>
<rect x="348.66" y="182.0" width="0.92" height="7.1" fill="#00ff00"/>
<rect x="347.74" y="184.4" width="2.76" height="2.9" fill="#00ff00"/>
<rect x="348.66" y="185.3" width="0.92" height="1.0" fill="#f0fff0"/>
<rect x="352.34" y="152.7" width="0.92" height="38.0" fill="#00ff00"/>
<rect x="351.42" y="160.3" width="2.76" height="26.9" fill="#00ff00"/>
<rect x="352.34" y="161.2" width="0.92" height="25.1" fill="#000"/>
<rect x="356.02" y="136.9" width="0.92" height="33.3" fill="#00ff00"/>
<rect x="355.10" y="160.2" width="2.76" height="6.3" fill="#00ff00"/>
<rect x="356.02" y="161.1" width="0.92" height="4.5" fill="#f0fff0"/>
<rect x="359.70" y="123.4" width="0.92" height="52.3" fill="#00ff00"/>
<rect x="358.78" y="125.3" width="2.76" height="41.7" fill="#00ff00"/>
<rect x="359.70" y="126.2" width="0.92" height="39.8" fill="#000"/>
<rect x="363.38" y="83.8" width="0.92" height="54.7" fill="#00ff00"/>
<rect x="362.46" y="106.3" width="2.76" height="19.0" fill="#00ff00"/>
<rect x="363.38" y="107.2" width="0.92" height="17.2" fill="#000"/>
<rect x="367.06" y="81.9" width="0.92" height="25.7" fill="#00ff00"/>
<rect x="366.14" y="96.5" width="2.76" height="10.3" fill="#00ff00"/>
<rect x="367.06" y="97.4" width="0.92" height="8.5" fill="#000"/>
<rect x="370.74" y="94.1" width="0.92" height="12.7" fill="#00ff00"/>
<rect x="369.82" y="95.2" width="2.76" height="10.0" fill="#00ff00"/>
<rect x="370.74" y="96.1" width="0.92" height="8.1" fill="#f0fff0"/>
<rect x="374.42" y="95.7" width="0.92" height="11.9" fill="#00ff00"/>
<rect x="373.50" y="98.8" width="2.76" height="7.1" fill="#00ff00"/>
<rect x="374.42" y="99.7" width="0.92" height="5.3" fill="#000"/>
<rect x="378.10" y="75.1" width="0.92" height="26.9" fill="#00ff00"/>
<rect x="377.18" y="92.5" width="2.76" height="7.1" fill="#00ff00"/>
<rect x="378.10" y="93.4" width="0.92" height="5.3" fill="#000"/>
<rect x="381.78" y="70.8" width="0.92" height="71.6" fill="#00ff00"/>
<rect x="380.86" y="92.2" width="2.76" height="27.3" fill="#00ff00"/>
<rect x="381.78" y="93.1" width="0.92" height="25.4" fill="#f0fff0"/>
<rect x="385.46" y="118.6" width="0.92" height="37.7" fill="#00ff00"/>
<rect x="384.54" y="119.0" width="2.76" height="21.6" fill="#00ff00"/>
<rect x="385.46" y="119.9" width="0.92" height="19.7" fill="#f0fff0"/>
<rect x="389.14" y="131.3" width="0.92" height="15.5" fill="#00ff00"/>
<rect x="388.22" y="138.9" width="2.76" height="1.9" fill="#00ff00"/>
<rect x="392.82" y="136.1" width="0.92" height="24.6" fill="#00ff00"/>
<rect x="391.90" y="142.4" width="2.76" height="10.3" fill="#00ff00"/>
<rect x="392.82" y="143.3" width="0.92" height="8.5" fill="#f0fff0"/>
<rect x="396.50" y="146.4" width="0.92" height="30.9" fill="#00ff00"/>
<rect x="395.58" y="151.9" width="2.76" height="15.8" fill="#00ff00"/>
<rect x="396.50" y="152.8" width="0.92" height="14.0" fill="#f0fff0"/>
<rect x="400.18" y="149.6" width="0.92" height="36.5" fill="#00ff00"/>
<rect x="399.26" y="155.2" width="2.76" height="12.7" fill="#00ff00"/>
<rect x="400.18" y="156.1" width="0.92" height="10.8" fill="#000"/>
<rect x="403.86" y="126.6" width="0.92" height="61.8" fill="#00ff00"/>
<rect x="402.94" y="149.6" width="2.76" height="6.3" fill="#00ff00"/>
<rect x="403.86" y="150.5" width="0.92" height="4.5" fill="#000"/>
<rect x="407.54" y="134.6" width="0.92" height="51.5" fill="#00ff00"/>
<rect x="406.62" y="149.6" width="2.76" height="15.1" fill="#00ff00"/>
<rect x="407.54" y="150.5" width="0.92" height="13.2" fill="#f0fff0"/>
<rect x="411.22" y="155.2" width="0.92" height="23.0" fill="#00ff00"/>
<rect x="410.30" y="163.9" width="2.76" height="6.7" fill="#00ff00"/>
<rect x="411.22" y="164.8" width="0.92" height="4.8" fill="#f0fff0"/>
<rect x="414.90" y="171.8" width="0.92" height="33.3" fill="#00ff00"/>
<rect x="413.98" y="175.3" width="2.76" height="22.7" fill="#00ff00"/>
<rect x="414.90" y="176.2" width="0.92" height="20.8" fill="#f0fff0"/>
<rect x="418.58" y="194.0" width="0.92" height="19.0" fill="#00ff00"/>
<rect x="417.66" y="197.5" width="2.76" height="5.2" fill="#00ff00"/>
<rect x="418.58" y="198.4" width="0.92" height="3.4" fill="#f0fff0"/>
<rect x="422.26" y="178.1" width="0.92" height="34.1" fill="#00ff00"/>
<rect x="421.34" y="190.0" width="2.76" height="12.7" fill="#00ff00"/>
<rect x="422.26" y="191.0" width="0.92" height="10.8" fill="#000"/>
<rect x="425.94" y="190.0" width="0.92" height="22.2" fill="#00ff00"/>
<rect x="425.02" y="190.0" width="2.76" height="17.4" fill="#00ff00"/>
<rect x="425.94" y="191.0" width="0.92" height="15.6" fill="#f0fff0"/>
<rect x="429.62" y="189.2" width="0.92" height="24.6" fill="#00ff00"/>
<rect x="428.70" y="201.1" width="2.76" height="6.3" fill="#00ff00"/>
<rect x="429.62" y="202.0" width="0.92" height="4.5" fill="#000"/>
<rect x="433.30" y="192.1" width="0.92" height="13.8" fill="#00ff00"/>
<rect x="432.38" y="200.7" width="2.76" height="0.95" fill="#00ff00"/>
<rect x="436.98" y="198.7" width="0.92" height="13.5" fill="#00ff00"/>
<rect x="436.06" y="200.3" width="2.76" height="8.7" fill="#00ff00"/>
<rect x="436.98" y="201.3" width="0.92" height="6.9" fill="#f0fff0"/>
<rect x="440.66" y="189.2" width="0.92" height="22.2" fill="#00ff00"/>
<rect x="439.74" y="190.0" width="2.76" height="19.8" fill="#00ff00"/>
<rect x="440.66" y="191.0" width="0.92" height="18.0" fill="#000"/>
<rect x="444.34" y="138.5" width="0.92" height="56.3" fill="#00ff00"/>
<rect x="443.42" y="144.1" width="2.76" height="46.0" fill="#00ff00"/>
<rect x="444.34" y="145.0" width="0.92" height="44.1" fill="#000"/>
<rect x="448.02" y="132.5" width="0.92" height="30.6" fill="#00ff00"/>
<rect x="447.10" y="144.1" width="2.76" height="13.2" fill="#00ff00"/>
<rect x="448.02" y="145.0" width="0.92" height="11.3" fill="#f0fff0"/>
<rect x="451.70" y="138.5" width="0.92" height="25.4" fill="#00ff00"/>
<rect x="450.78" y="156.8" width="2.76" height="0.95" fill="#00ff00"/>
<rect x="455.38" y="154.4" width="0.92" height="18.2" fill="#00ff00"/>
<rect x="454.46" y="156.8" width="2.76" height="12.7" fill="#00ff00"/>
<rect x="455.38" y="157.7" width="0.92" height="10.8" fill="#f0fff0"/>
<rect x="459.06" y="158.3" width="0.92" height="13.5" fill="#00ff00"/>
<rect x="458.14" y="161.5" width="2.76" height="7.1" fill="#00ff00"/>
<rect x="459.06" y="162.4" width="0.92" height="5.3" fill="#000"/>
<rect x="462.74" y="144.9" width="0.92" height="24.6" fill="#00ff00"/>
<rect x="461.82" y="148.8" width="2.76" height="13.5" fill="#00ff00"/>
<rect x="462.74" y="149.7" width="0.92" height="11.6" fill="#000"/>
<rect x="466.42" y="140.1" width="0.92" height="34.9" fill="#00ff00"/>
<rect x="465.50" y="148.8" width="2.76" height="23.0" fill="#00ff00"/>
<rect x="466.42" y="149.7" width="0.92" height="21.1" fill="#f0fff0"/>
<rect x="470.10" y="107.2" width="0.92" height="64.7" fill="#00ff00"/>
<rect x="469.18" y="111.1" width="2.76" height="60.4" fill="#00ff00"/>
<rect x="470.10" y="112.0" width="0.92" height="58.5" fill="#000"/>
<rect x="473.78" y="75.5" width="0.92" height="43.6" fill="#00ff00"/>
<rect x="472.86" y="81.0" width="2.76" height="30.6" fill="#00ff00"/>
<rect x="473.78" y="81.9" width="0.92" height="28.7" fill="#000"/>
<rect x="477.46" y="79.4" width="0.92" height="20.6" fill="#00ff00"/>
<rect x="476.54" y="81.0" width="2.76" height="11.1" fill="#00ff00"/>
<rect x="477.46" y="81.9" width="0.92" height="9.3" fill="#f0fff0"/>
<rect x="481.14" y="88.1" width="0.92" height="11.1" fill="#00ff00"/>
<rect x="480.22" y="92.7" width="2.76" height="0.95" fill="#00ff00"/>
<rect x="484.82" y="80.2" width="0.92" height="16.6" fill="#00ff00"/>
<rect x="483.90" y="85.3" width="2.76" height="8.9" fill="#00ff00"/>
<rect x="484.82" y="86.2" width="0.92" height="7.0" fill="#000"/>
<rect x="488.50" y="48.5" width="0.92" height="40.4" fill="#00ff00"/>
<rect x="487.58" y="59.3" width="2.76" height="26.0" fill="#00ff00"/>
<rect x="488.50" y="60.2" width="0.92" height="24.2" fill="#000"/>
<rect x="492.18" y="41.4" width="0.92" height="28.5" fill="#00ff00"/>
<rect x="491.26" y="58.8" width="2.76" height="2.7" fill="#00ff00"/>
<rect x="492.18" y="59.7" width="0.92" height="0.9" fill="#f0fff0"/>
<rect x="495.86" y="57.2" width="0.92" height="40.4" fill="#00ff00"/>
<rect x="494.94" y="60.9" width="2.76" height="17.0" fill="#00ff00"/>
<rect x="495.86" y="61.8" width="0.92" height="15.1" fill="#f0fff0"/>
<rect x="499.54" y="58.0" width="0.92" height="27.7" fill="#00ff00"/>
<rect x="498.62" y="61.5" width="2.76" height="15.8" fill="#00ff00"/>
<rect x="499.54" y="62.4" width="0.92" height="14.0" fill="#000"/>
<rect x="503.22" y="58.0" width="0.92" height="12.7" fill="#00ff00"/>
<rect x="502.30" y="59.6" width="2.76" height="9.8" fill="#00ff00"/>
<rect x="503.22" y="60.5" width="0.92" height="8.0" fill="#f0fff0"/>
<rect x="506.90" y="56.1" width="0.92" height="14.6" fill="#00ff00"/>
<rect x="505.98" y="60.9" width="2.76" height="8.6" fill="#00ff00"/>
<rect x="506.90" y="61.8" width="0.92" height="6.7" fill="#000"/>
<rect x="510.58" y="54.1" width="0.92" height="38.8" fill="#00ff00"/>
<rect x="509.66" y="60.9" width="2.76" height="28.1" fill="#00ff00"/>
<rect x="510.58" y="61.8" width="0.92" height="26.2" fill="#f0fff0"/>
<rect x="514.26" y="83.1" width="0.92" height="24.9" fill="#00ff00"/>
<rect x="513.34" y="88.5" width="2.76" height="16.3" fill="#00ff00"/>
<rect x="514.26" y="89.4" width="0.92" height="14.5" fill="#f0fff0"/>
<rect x="517.94" y="38.7" width="0.92" height="66.9" fill="#00ff00"/>
<rect x="517.02" y="48.8" width="2.76" height="55.9" fill="#00ff00"/>
<rect x="517.94" y="49.8" width="0.92" height="54.1" fill="#000"/>
<rect x="521.62" y="29.5" width="0.92" height="23.8" fill="#00ff00"/>
<rect x="520.70" y="39.3" width="2.76" height="10.0" fill="#00ff00"/>
<rect x="521.62" y="40.3" width="0.92" height="8.1" fill="#000"/>
<rect x="525.30" y="27.1" width="0.92" height="28.5" fill="#00ff00"/>
<rect x="524.38" y="39.3" width="2.76" height="8.4" fill="#00ff00"/>
<rect x="525.30" y="40.3" width="0.92" height="6.6" fill="#f0fff0"/>
<rect x="528.98" y="43.8" width="0.92" height="11.9" fill="#00ff00"/>
<rect x="528.06" y="47.3" width="2.76" height="2.1" fill="#00ff00"/>
<rect x="532.66" y="40.6" width="0.92" height="44.4" fill="#00ff00"/>
<rect x="531.74" y="48.8" width="2.76" height="26.6" fill="#00ff00"/>
<rect x="532.66" y="49.8" width="0.92" height="24.8" fill="#f0fff0"/>
<rect x="536.34" y="51.9" width="0.92" height="29.6" fill="#00ff00"/>
<rect x="535.42" y="68.8" width="2.76" height="6.3" fill="#00ff00"/>
<rect x="536.34" y="69.8" width="0.92" height="4.5" fill="#000"/>
<rect x="540.02" y="68.5" width="0.92" height="36.5" fill="#00ff00"/>
<rect x="539.10" y="69.3" width="2.76" height="24.6" fill="#00ff00"/>
<rect x="540.02" y="70.2" width="0.92" height="22.7" fill="#f0fff0"/>
<rect x="543.70" y="93.1" width="0.92" height="29.3" fill="#00ff00"/>
<rect x="542.78" y="93.6" width="2.76" height="20.1" fill="#00ff00"/>
<rect x="543.70" y="94.5" width="0.92" height="18.3" fill="#f0fff0"/>
<rect x="547.38" y="106.9" width="0.92" height="9.2" fill="#00ff00"/>
<rect x="546.46" y="112.6" width="2.76" height="2.2" fill="#00ff00"/>
<rect x="547.38" y="113.5" width="0.92" height="0.4" fill="#f0fff0"/>
<rect x="551.06" y="112.1" width="0.92" height="17.4" fill="#00ff00"/>
<rect x="550.14" y="113.2" width="2.76" height="5.2" fill="#00ff00"/>
<rect x="551.06" y="114.1" width="0.92" height="3.4" fill="#f0fff0"/>
<rect x="554.74" y="108.9" width="0.92" height="89.5" fill="#00ff00"/>
<rect x="553.82" y="118.0" width="2.76" height="64.7" fill="#00ff00"/>
<rect x="554.74" y="118.9" width="0.92" height="62.8" fill="#f0fff0"/>
<rect x="558.42" y="166.6" width="0.92" height="52.6" fill="#00ff00"/>
<rect x="557.50" y="181.5" width="2.76" height="26.9" fill="#00ff00"/>
<rect x="558.42" y="182.4" width="0.92" height="25.1" fill="#f0fff0"/>
<rect x="562.10" y="194.2" width="0.92" height="27.4" fill="#00ff00"/>
<rect x="561.18" y="208.1" width="2.76" height="4.0" fill="#00ff00"/>
<rect x="562.10" y="209.1" width="0.92" height="2.1" fill="#f0fff0"/>
<rect x="565.78" y="197.8" width="0.92" height="16.6" fill="#00ff00"/>
<rect x="564.86" y="204.2" width="2.76" height="8.7" fill="#00ff00"/>
<rect x="565.78" y="205.1" width="0.92" height="6.9" fill="#000"/>
<rect x="569.46" y="202.6" width="0.92" height="16.6" fill="#00ff00"/>
<rect x="568.54" y="203.4" width="2.76" height="8.7" fill="#00ff00"/>
<rect x="569.46" y="204.3" width="0.92" height="6.9" fill="#f0fff0"/>
<rect x="573.14" y="202.1" width="0.92" height="15.5" fill="#00ff00"/>
<rect x="572.22" y="211.2" width="2.76" height="0.95" fill="#00ff00"/>
<rect x="576.82" y="205.0" width="0.92" height="46.8" fill="#00ff00"/>
<rect x="575.90" y="211.6" width="2.76" height="8.4" fill="#00ff00"/>
<rect x="576.82" y="212.6" width="0.92" height="6.6" fill="#f0fff0"/>
<rect x="580.50" y="206.6" width="0.92" height="30.1" fill="#00ff00"/>
<rect x="579.58" y="208.9" width="2.76" height="11.1" fill="#00ff00"/>
<rect x="580.50" y="209.9" width="0.92" height="9.3" fill="#000"/>
<rect x="584.18" y="208.1" width="0.92" height="36.5" fill="#00ff00"/>
<rect x="583.26" y="209.7" width="2.76" height="25.0" fill="#00ff00"/>
<rect x="584.18" y="210.7" width="0.92" height="23.2" fill="#f0fff0"/>
<rect x="587.86" y="207.8" width="0.92" height="39.9" fill="#00ff00"/>
<rect x="586.94" y="233.5" width="2.76" height="1.9" fill="#00ff00"/>
<rect x="591.54" y="220.0" width="0.92" height="18.2" fill="#00ff00"/>
<rect x="590.62" y="222.1" width="2.76" height="12.7" fill="#00ff00"/>
<rect x="591.54" y="223.0" width="0.92" height="10.8" fill="#000"/>
<rect x="595.22" y="214.5" width="0.92" height="11.1" fill="#00ff00"/>
<rect x="594.30" y="216.4" width="2.76" height="6.0" fill="#00ff00"/>
<rect x="595.22" y="217.3" width="0.92" height="4.2" fill="#000"/>
<rect x="598.90" y="191.0" width="0.92" height="51.7" fill="#00ff00"/>
<rect x="597.98" y="204.2" width="2.76" height="12.2" fill="#00ff00"/>
<rect x="598.90" y="205.1" width="0.92" height="10.4" fill="#000"/>
<rect x="602.58" y="186.0" width="0.92" height="40.9" fill="#00ff00"/>
<rect x="601.66" y="204.2" width="2.76" height="14.7" fill="#00ff00"/>
<rect x="602.58" y="205.1" width="0.92" height="12.9" fill="#f0fff0"/>
<rect x="606.26" y="208.3" width="0.92" height="20.6" fill="#00ff00"/>
<rect x="605.34" y="213.9" width="2.76" height="5.5" fill="#00ff00"/>
<rect x="606.26" y="214.8" width="0.92" height="3.7" fill="#000"/>
<rect x="609.94" y="209.9" width="0.92" height="16.6" fill="#00ff00"/>
<rect x="609.02" y="213.9" width="2.76" height="11.1" fill="#00ff00"/>
<rect x="609.94" y="214.8" width="0.92" height="9.3" fill="#f0fff0"/>
<rect x="613.62" y="219.4" width="0.92" height="11.1" fill="#00ff00"/>
<rect x="612.70" y="221.0" width="2.76" height="2.4" fill="#00ff00"/>
<rect x="613.62" y="221.9" width="0.92" height="0.5" fill="#000"/>
<rect x="617.30" y="202.5" width="0.92" height="20.1" fill="#00ff00"/>
<rect x="616.38" y="207.2" width="2.76" height="13.8" fill="#00ff00"/>
<rect x="617.30" y="208.1" width="0.92" height="11.9" fill="#000"/>
<rect x="620.98" y="188.5" width="0.92" height="24.6" fill="#00ff00"/>
<rect x="620.06" y="196.5" width="2.76" height="11.1" fill="#00ff00"/>
<rect x="620.98" y="197.4" width="0.92" height="9.3" fill="#000"/>
<rect x="624.66" y="171.1" width="0.92" height="97.5" fill="#00ff00"/>
<rect x="623.74" y="196.1" width="2.76" height="65.3" fill="#00ff00"/>
<rect x="624.66" y="197.1" width="0.92" height="63.5" fill="#f0fff0"/>
<rect x="628.34" y="254.4" width="0.92" height="30.4" fill="#00ff00"/>
<rect x="627.42" y="261.4" width="2.76" height="5.7" fill="#00ff00"/>
<rect x="628.34" y="262.3" width="0.92" height="3.9" fill="#f0fff0"/>
<rect x="632.02" y="265.1" width="0.92" height="20.1" fill="#00ff00"/>
<rect x="631.10" y="267.1" width="2.76" height="11.4" fill="#00ff00"/>
<rect x="632.02" y="268.0" width="0.92" height="9.6" fill="#f0fff0"/>
<rect x="635.70" y="278.5" width="0.92" height="26.1" fill="#00ff00"/>
<rect x="634.78" y="280.9" width="2.76" height="15.1" fill="#00ff00"/>
<rect x="635.70" y="281.8" width="0.92" height="13.2" fill="#f0fff0"/>
<rect x="639.38" y="288.8" width="0.92" height="10.6" fill="#00ff00"/>
<rect x="638.46" y="295.2" width="2.76" height="0.95" fill="#00ff00"/>
<rect x="643.06" y="281.4" width="0.92" height="27.3" fill="#00ff00"/>
<rect x="642.14" y="295.2" width="2.76" height="1.6" fill="#00ff00"/>
<rect x="646.74" y="290.9" width="0.92" height="13.0" fill="#00ff00"/>
<rect x="645.82" y="294.4" width="2.76" height="2.9" fill="#00ff00"/>
<rect x="646.74" y="295.3" width="0.92" height="1.0" fill="#000"/>
<rect x="650.42" y="292.0" width="0.92" height="12.2" fill="#00ff00"/>
<rect x="649.50" y="293.6" width="2.76" height="5.5" fill="#00ff00"/>
<rect x="650.42" y="294.5" width="0.92" height="3.7" fill="#f0fff0"/>
<rect x="654.10" y="296.0" width="0.92" height="6.3" fill="#00ff00"/>
<rect x="653.18" y="299.0" width="2.76" height="0.95" fill="#00ff00"/>
<rect x="657.78" y="296.0" width="0.92" height="26.9" fill="#00ff00"/>
<rect x="656.86" y="297.9" width="2.76" height="19.5" fill="#00ff00"/>
<rect x="657.78" y="298.8" width="0.92" height="17.7" fill="#f0fff0"/>
<rect x="661.46" y="310.1" width="0.92" height="14.3" fill="#00ff00"/>
<rect x="660.54" y="316.5" width="2.76" height="6.0" fill="#00ff00"/>
<rect x="661.46" y="317.4" width="0.92" height="4.2" fill="#f0fff0"/>
<rect x="665.14" y="318.8" width="0.92" height="30.9" fill="#00ff00"/>
<rect x="664.22" y="322.8" width="2.76" height="18.7" fill="#00ff00"/>
<rect x="665.14" y="323.7" width="0.92" height="16.9" fill="#f0fff0"/>
<rect x="668.82" y="318.0" width="0.92" height="29.3" fill="#00ff00"/>
<rect x="667.90" y="341.0" width="2.76" height="5.5" fill="#00ff00"/>
<rect x="668.82" y="341.9" width="0.92" height="3.7" fill="#f0fff0"/>
<rect x="672.50" y="329.1" width="0.92" height="29.3" fill="#00ff00"/>
<rect x="671.58" y="337.4" width="2.76" height="7.9" fill="#00ff00"/>
<rect x="672.50" y="338.3" width="0.92" height="6.1" fill="#000"/>
<rect x="676.18" y="343.1" width="0.92" height="18.1" fill="#00ff00"/>
<rect x="675.26" y="345.8" width="2.76" height="11.1" fill="#00ff00"/>
<rect x="676.18" y="346.7" width="0.92" height="9.3" fill="#f0fff0"/>
<rect x="679.86" y="346.6" width="0.92" height="9.8" fill="#00ff00"/>
<rect x="678.94" y="353.7" width="2.76" height="0.95" fill="#00ff00"/>
<rect x="683.54" y="345.0" width="0.92" height="15.1" fill="#00ff00"/>
<rect x="682.62" y="345.3" width="2.76" height="9.2" fill="#00ff00"/>
<rect x="683.54" y="346.2" width="0.92" height="7.4" fill="#000"/>
<rect x="687.22" y="324.7" width="0.92" height="21.1" fill="#00ff00"/>
<rect x="686.30" y="330.4" width="2.76" height="14.9" fill="#00ff00"/>
<rect x="687.22" y="331.3" width="0.92" height="13.1" fill="#000"/>
<rect x="690.90" y="327.2" width="0.92" height="54.2" fill="#00ff00"/>
<rect x="689.98" y="330.4" width="2.76" height="46.0" fill="#00ff00"/>
<rect x="690.90" y="331.3" width="0.92" height="44.1" fill="#f0fff0"/>
<rect x="694.58" y="334.7" width="0.92" height="51.2" fill="#00ff00"/>
<rect x="693.66" y="351.3" width="2.76" height="25.0" fill="#00ff00"/>
<rect x="694.58" y="352.2" width="0.92" height="23.2" fill="#000"/>
<rect x="698.26" y="336.3" width="0.92" height="18.2" fill="#00ff00"/>
<rect x="697.34" y="339.4" width="2.76" height="11.9" fill="#00ff00"/>
<rect x="698.26" y="340.3" width="0.92" height="10.0" fill="#000"/>
<rect x="701.94" y="330.4" width="0.92" height="16.2" fill="#00ff00"/>
<rect x="701.02" y="333.6" width="2.76" height="5.9" fill="#00ff00"/>
<rect x="701.94" y="334.5" width="0.92" height="4.0" fill="#000"/>
<rect x="705.62" y="328.8" width="0.92" height="16.5" fill="#00ff00"/>
<rect x="704.70" y="332.3" width="2.76" height="2.4" fill="#00ff00"/>
<rect x="705.62" y="333.2" width="0.92" height="0.5" fill="#000"/>
<rect x="709.30" y="312.5" width="0.92" height="27.7" fill="#00ff00"/>
<rect x="708.38" y="322.0" width="2.76" height="10.3" fill="#00ff00"/>
<rect x="709.30" y="322.9" width="0.92" height="8.5" fill="#000"/>
<rect x="712.98" y="315.7" width="0.92" height="38.8" fill="#00ff00"/>
<rect x="712.06" y="322.0" width="2.76" height="23.3" fill="#00ff00"/>
<rect x="712.98" y="322.9" width="0.92" height="21.5" fill="#f0fff0"/>
<rect x="716.66" y="315.7" width="0.92" height="43.6" fill="#00ff00"/>
<rect x="715.74" y="319.3" width="2.76" height="26.0" fill="#00ff00"/>
<rect x="716.66" y="320.2" width="0.92" height="24.2" fill="#000"/>
<rect x="720.34" y="308.2" width="0.92" height="19.3" fill="#00ff00"/>
<rect x="719.42" y="314.5" width="2.76" height="5.1" fill="#00ff00"/>
<rect x="720.34" y="315.5" width="0.92" height="3.2" fill="#000"/>
<rect x="724.02" y="299.8" width="0.92" height="14.3" fill="#00ff00"/>
<rect x="723.10" y="311.7" width="2.76" height="1.3" fill="#00ff00"/>
<rect x="727.70" y="304.7" width="0.92" height="8.7" fill="#00ff00"/>
<rect x="726.78" y="311.0" width="2.76" height="2.1" fill="#00ff00"/>
<rect x="731.38" y="299.9" width="0.92" height="27.7" fill="#00ff00"/>
<rect x="730.46" y="308.3" width="2.76" height="4.3" fill="#00ff00"/>
<rect x="731.38" y="309.2" width="0.92" height="2.4" fill="#000"/>
<rect x="735.06" y="286.8" width="0.92" height="25.8" fill="#00ff00"/>
<rect x="734.14" y="297.2" width="2.76" height="11.7" fill="#00ff00"/>
<rect x="735.06" y="298.1" width="0.92" height="9.9" fill="#000"/>
<rect x="738.74" y="282.5" width="0.92" height="29.3" fill="#00ff00"/>
<rect x="737.82" y="296.0" width="2.76" height="1.6" fill="#00ff00"/>
<rect x="742.42" y="288.8" width="0.92" height="11.1" fill="#00ff00"/>
<rect x="741.50" y="290.9" width="2.76" height="6.3" fill="#00ff00"/>
<rect x="742.42" y="291.8" width="0.92" height="4.5" fill="#000"/>
<rect x="746.10" y="289.6" width="0.92" height="34.9" fill="#00ff00"/>
<rect x="745.18" y="294.4" width="2.76" height="22.2" fill="#00ff00"/>
<rect x="746.10" y="295.3" width="0.92" height="20.3" fill="#f0fff0"/>
<rect x="749.78" y="304.7" width="0.92" height="19.0" fill="#00ff00"/>
<rect x="748.86" y="306.3" width="2.76" height="10.3" fill="#00ff00"/>
<rect x="749.78" y="307.2" width="0.92" height="8.5" fill="#000"/>
<rect x="753.46" y="303.9" width="0.92" height="42.8" fill="#00ff00"/>
<rect x="752.54" y="306.3" width="2.76" height="36.5" fill="#00ff00"/>
<rect x="753.46" y="307.2" width="0.92" height="34.6" fill="#f0fff0"/>
<rect x="757.14" y="307.8" width="0.92" height="35.7" fill="#00ff00"/>
<rect x="756.22" y="314.7" width="2.76" height="28.1" fill="#00ff00"/>
<rect x="757.14" y="315.6" width="0.92" height="26.2" fill="#000"/>
<rect x="760.82" y="296.8" width="0.92" height="51.8" fill="#00ff00"/>
<rect x="759.90" y="315.0" width="2.76" height="13.5" fill="#00ff00"/>
<rect x="760.82" y="315.9" width="0.92" height="11.6" fill="#f0fff0"/>
<rect x="764.50" y="321.3" width="0.92" height="13.5" fill="#00ff00"/>
<rect x="763.58" y="326.9" width="2.76" height="1.1" fill="#00ff00"/>
<rect x="768.18" y="322.9" width="0.92" height="10.3" fill="#00ff00"/>
<rect x="767.26" y="325.9" width="2.76" height="0.95" fill="#00ff00"/>
<rect x="771.86" y="320.5" width="0.92" height="11.9" fill="#00ff00"/>
<rect x="770.94" y="322.1" width="2.76" height="4.3" fill="#00ff00"/>
<rect x="771.86" y="323.0" width="0.92" height="2.4" fill="#000"/>
<rect x="775.54" y="288.8" width="0.92" height="42.8" fill="#00ff00"/>
<rect x="774.62" y="293.1" width="2.76" height="29.0" fill="#00ff00"/>
<rect x="775.54" y="294.0" width="0.92" height="27.2" fill="#000"/>
<rect x="779.22" y="261.4" width="0.92" height="46.4" fill="#00ff00"/>
<rect x="778.30" y="261.4" width="2.76" height="33.8" fill="#00ff00"/>
<rect x="779.22" y="262.3" width="0.92" height="31.9" fill="#000"/>
</g>
<path d="M3.5 602.5 L6.8 591.2 L11.7 590.8 L17.6 593.1 L20.5 593.1 L25.0 598.0 L29.3 595.6 L36.1 587.3 L40.0 585.7 L43.4 588.2 L46.9 592.5 L51.2 585.7 L54.7 585.7 L60.5 583.7 L65.4 583.7 L69.3 581.4 L73.2 586.3 L80.0 583.7 L84.4 583.7 L87.9 587.3 L91.8 589.2 L97.7 589.6 L107.4 590.2 L110.4 592.1 L113.3 596.6 L121.1 587.8 L127.9 591.5 L132.8 589.2 L135.4 586.3 L139.6 591.5 L143.6 590.8 L151.4 592.7 L156.3 591.5 L160.2 588.2 L165.6 582.4 L169.9 584.3 L176.8 585.7 L179.7 581.8 L183.6 584.3 L192.4 582.4 L196.3 583.7 L200.0 585.3 L202.3 587.3 L205.5 585.7 L209.4 581.8 L216.6 585.3 L220.5 585.3 L229.3 579.4 L234.2 577.5 L239.0 579.0 L242.0 580.4 L248.8 577.1 L253.7 572.2 L258.6 574.6 L264.0 577.1 L268.0 573.2 L271.3 579.0 L278.1 575.9 L283.0 577.9 L285.9 578.5 L289.8 575.1 L294.1 575.1 L298.0 583.3 L301.6 582.4 L308.4 582.4 L312.3 587.3 L316.2 585.3 L323.0 588.2 L327.9 588.2 L334.4 592.1 L341.6 583.3 L345.5 585.7 L348.8 587.3 L353.3 583.3 L356.3 584.3 L362.1 579.4 L367.0 577.5 L371.9 579.8 L378.7 578.5 L386.5 587.3 L391.4 587.3 L396.9 591.5 L400.0 590.2 L403.5 589.2 L410.7 592.7 L416.6 597.0 L418.6 597.4 L422.5 594.7 L427.0 597.4 L433.2 595.5 L437.1 597.0 L441.4 591.2 L444.9 586.3 L448.8 587.8 L452.7 588.2 L456.6 590.2 L462.5 587.3 L466.8 590.8 L471.3 583.0 L474.2 580.4 L479.1 582.4 L483.0 582.4 L489.8 579.0 L496.7 582.4 L500.6 580.4 L504.5 582.4 L507.0 581.4 L511.3 586.9 L514.3 588.8 L519.1 583.0 L523.0 582.4 L528.9 583.7 L533.8 588.2 L536.7 587.3 L544.5 593.1 L550.4 593.5 L556.3 601.9 L562.1 603.3 L566.0 601.9 L571.9 602.9 L576.8 603.9 L580.7 601.3 L586.5 603.9 L592.4 600.5 L600.0 597.0 L603.5 599.0 L606.8 597.0 L610.7 599.4 L614.6 597.4 L621.1 592.5 L625.0 601.9 L630.3 601.9 L637.1 604.4 L643.0 604.4 L646.9 603.3 L654.7 604.4 L662.5 607.4 L668.4 608.7 L673.2 609.1 L677.1 610.3 L681.0 608.7 L687.5 600.9 L691.4 606.8 L695.7 599.4 L700.6 596.6 L705.5 596.6 L709.4 593.5 L713.7 597.4 L717.2 592.7 L723.0 590.8 L731.8 590.8 L735.7 588.2 L742.6 586.9 L746.5 592.7 L750.0 590.2 L754.3 596.6 L757.8 591.5 L762.1 593.5 L766.0 593.5 L772.9 592.1 L778.7 583.7" fill="none" stroke="#1c74c4" stroke-width="1.05" stroke-linejoin="round"/>
<path d="M3.5 660.6 C4.5 659.7 7.8 657.0 9.8 655.1 C11.8 653.2 13.7 650.9 15.6 649.3 C17.6 647.7 19.6 646.1 21.5 645.3 C23.4 644.5 25.2 644.1 27.3 644.4 C29.4 644.7 31.6 646.4 34.2 646.9 C36.8 647.4 40.2 647.6 43.0 647.3 C45.8 647.0 48.2 646.2 50.8 645.3 C53.4 644.4 56.0 642.9 58.6 641.8 C61.2 640.7 63.8 639.4 66.4 638.5 C69.0 637.6 71.6 637.1 74.2 636.6 C76.8 636.1 79.4 635.6 82.0 635.6 C84.6 635.6 87.5 635.8 89.8 636.6 C92.1 637.4 93.7 638.9 95.7 640.5 C97.7 642.1 99.6 644.2 101.6 646.3 C103.5 648.4 105.6 651.1 107.4 653.2 C109.2 655.3 110.7 657.4 112.3 659.0 C113.9 660.6 115.6 662.1 117.2 662.9 C118.8 663.7 120.3 664.0 122.1 663.9 C123.9 663.8 126.0 663.3 127.9 662.5 C129.9 661.7 131.9 660.4 133.8 659.0 C135.8 657.6 137.7 655.7 139.6 654.1 C141.5 652.5 143.5 650.7 145.5 649.6 C147.5 648.5 149.6 647.5 151.4 647.3 C153.2 647.1 154.5 647.6 156.3 648.3 C158.1 648.9 160.2 650.9 162.1 651.2 C164.0 651.5 166.1 651.0 168.0 650.2 C169.9 649.4 171.9 647.9 173.8 646.3 C175.8 644.7 177.8 642.2 179.7 640.5 C181.6 638.8 183.6 637.0 185.5 636.0 C187.4 635.0 189.0 634.7 191.4 634.6 C193.8 634.5 197.3 634.7 200.0 635.2 C202.7 635.7 205.2 636.6 207.8 637.5 C210.4 638.4 213.2 639.7 215.6 640.5 C218.0 641.3 220.2 642.1 222.5 642.4 C224.8 642.7 226.9 642.9 229.3 642.4 C231.7 641.9 234.7 640.6 237.1 639.5 C239.5 638.4 241.6 636.8 243.9 635.6 C246.2 634.5 248.4 633.2 250.8 632.6 C253.2 632.0 256.2 632.1 258.6 632.1 C261.0 632.1 263.1 632.1 265.4 632.6 C267.7 633.1 269.9 634.5 272.3 635.2 C274.8 635.9 277.5 636.7 280.1 636.9 C282.7 637.1 285.3 636.8 287.9 636.6 C290.5 636.4 293.1 635.5 295.7 635.6 C298.3 635.7 300.9 636.3 303.5 637.1 C306.1 637.9 309.0 639.0 311.3 640.5 C313.6 642.0 315.2 644.2 317.2 646.3 C319.1 648.4 321.1 651.1 323.0 653.2 C324.9 655.3 326.9 657.4 328.9 659.0 C330.9 660.6 332.9 662.1 334.8 662.9 C336.8 663.7 338.7 664.4 340.6 663.9 C342.6 663.4 344.4 661.6 346.5 660.0 C348.6 658.4 351.0 656.6 353.3 654.1 C355.6 651.6 357.9 648.1 360.2 645.3 C362.5 642.5 364.7 639.5 367.0 637.5 C369.3 635.5 371.7 634.1 373.8 633.2 C375.9 632.3 377.8 632.1 379.7 632.1 C381.6 632.1 383.6 632.5 385.5 633.2 C387.4 634.0 389.4 635.1 391.4 636.6 C393.4 638.1 395.9 641.0 397.3 642.4 C398.7 643.8 398.6 643.5 400.0 645.3 C401.4 647.1 403.9 650.8 405.9 653.2 C407.8 655.7 409.8 658.3 411.7 660.0 C413.6 661.7 415.5 662.5 417.6 663.3 C419.7 664.1 422.1 664.5 424.4 664.9 C426.7 665.3 429.0 665.6 431.3 665.9 C433.6 666.2 435.8 666.8 438.1 666.8 C440.4 666.8 442.6 666.9 444.9 665.9 C447.2 664.9 449.5 663.0 451.8 661.0 C454.1 659.0 456.3 656.4 458.6 654.1 C460.9 651.8 463.1 649.2 465.4 647.3 C467.7 645.3 470.0 643.9 472.3 642.4 C474.6 640.9 476.8 639.6 479.1 638.5 C481.4 637.4 483.6 636.4 485.9 635.6 C488.2 634.8 490.5 634.2 492.8 633.6 C495.1 633.0 497.3 632.3 499.6 632.1 C501.9 631.9 504.1 632.1 506.4 632.6 C508.7 633.1 511.2 634.1 513.3 635.2 C515.4 636.3 517.1 637.8 519.1 639.1 C521.1 640.4 523.0 642.0 525.0 643.0 C527.0 644.0 528.9 644.8 530.9 645.0 C532.9 645.2 534.8 644.5 536.7 644.4 C538.7 644.3 540.7 643.8 542.6 644.4 C544.5 645.0 546.5 646.7 548.4 648.3 C550.3 649.9 552.3 652.0 554.3 654.1 C556.3 656.2 558.2 658.9 560.2 661.0 C562.2 663.1 564.0 665.3 566.0 666.8 C568.0 668.3 569.9 669.1 571.9 669.8 C573.9 670.4 575.8 670.7 577.7 670.7 C579.7 670.7 581.5 670.3 583.6 669.8 C585.7 669.3 588.3 668.4 590.4 667.8 C592.5 667.1 594.7 666.4 596.3 665.9 C597.9 665.4 598.6 665.5 600.0 664.5 C601.4 663.5 603.1 661.7 604.9 660.0 C606.7 658.3 608.8 655.7 610.7 654.1 C612.7 652.5 614.6 651.2 616.6 650.2 C618.6 649.2 620.5 648.4 622.5 648.3 C624.5 648.2 626.3 648.6 628.3 649.6 C630.2 650.6 632.2 652.4 634.2 654.1 C636.2 655.8 638.0 658.2 640.0 660.0 C642.0 661.8 643.8 663.6 645.9 664.9 C648.0 666.2 650.3 666.9 652.7 667.8 C655.1 668.7 657.9 669.8 660.5 670.3 C663.1 670.8 665.5 671.0 668.4 671.1 C671.3 671.2 675.2 671.2 678.1 671.1 C681.0 671.0 683.5 670.8 685.9 670.3 C688.3 669.8 690.5 668.9 692.8 667.8 C695.1 666.7 697.5 665.5 699.6 663.9 C701.7 662.3 703.5 660.0 705.5 658.0 C707.5 656.0 709.3 653.7 711.3 651.6 C713.2 649.5 715.2 647.2 717.2 645.3 C719.2 643.3 721.0 641.4 723.0 639.9 C725.0 638.4 726.9 637.0 728.9 636.0 C730.9 635.0 732.8 634.5 734.8 634.0 C736.8 633.5 738.6 633.3 740.6 633.2 C742.6 633.1 744.5 633.0 746.5 633.2 C748.5 633.4 750.3 633.9 752.3 634.6 C754.2 635.3 756.2 635.9 758.2 637.5 C760.2 639.1 762.2 642.3 764.1 644.4 C766.0 646.5 768.1 648.7 769.9 650.2 C771.7 651.7 773.3 652.9 774.8 653.5 C776.3 654.1 778.4 654.0 779.1 654.1" fill="none" stroke="#e80000" stroke-width="1.0" stroke-dasharray="3.2 2.6" stroke-linejoin="round"/>
<path d="M3.5 656.1 C4.0 655.0 5.4 651.2 6.8 649.3 C8.2 647.3 9.6 645.5 11.7 644.4 C13.8 643.2 17.4 642.6 19.5 642.4 C21.6 642.2 22.9 642.4 24.4 643.4 C25.9 644.4 26.8 647.3 28.3 648.3 C29.8 649.3 31.4 649.6 33.2 649.6 C35.0 649.6 36.7 649.0 39.0 648.3 C41.3 647.6 44.8 646.7 46.9 645.3 C49.0 643.9 49.8 641.0 51.8 639.9 C53.8 638.8 56.5 638.7 58.6 638.5 C60.7 638.3 62.7 639.1 64.5 638.5 C66.3 637.9 67.7 635.1 69.3 634.6 C70.9 634.1 72.4 635.1 74.2 635.2 C76.0 635.3 78.0 634.9 80.0 635.2 C82.0 635.5 83.8 635.6 85.9 637.1 C88.0 638.6 90.5 641.6 92.8 644.4 C95.1 647.2 97.5 651.1 99.6 654.1 C101.7 657.1 103.7 660.6 105.5 662.5 C107.3 664.4 108.9 664.6 110.4 665.3 C111.9 665.9 112.8 666.9 114.3 666.4 C115.8 665.9 117.3 664.1 119.1 662.5 C120.9 660.9 123.0 658.1 125.0 656.7 C127.0 655.3 129.3 655.7 130.9 654.1 C132.5 652.5 133.5 648.9 134.8 647.3 C136.1 645.7 137.4 644.7 138.7 644.4 C140.0 644.1 141.0 644.5 142.6 645.3 C144.2 646.1 146.6 648.1 148.4 649.3 C150.2 650.4 151.7 650.9 153.3 652.2 C154.9 653.5 156.0 657.4 157.8 657.1 C159.6 656.8 162.1 652.8 164.1 650.2 C166.1 647.6 167.9 644.0 169.9 641.4 C171.9 638.8 174.0 636.1 175.8 634.6 C177.6 633.1 179.2 632.5 180.7 632.1 C182.2 631.7 183.3 631.8 184.6 632.1 C185.9 632.4 186.7 633.6 188.5 634.0 C190.3 634.4 193.4 634.0 195.3 634.6 C197.2 635.2 198.2 636.7 200.0 637.5 C201.8 638.3 204.0 638.8 205.9 639.5 C207.8 640.2 209.4 640.8 211.7 641.8 C214.0 642.8 217.2 645.2 219.5 645.3 C221.8 645.4 223.1 643.8 225.4 642.4 C227.7 641.0 230.8 638.4 233.2 636.6 C235.6 634.8 237.9 632.8 240.0 631.7 C242.1 630.6 243.9 630.2 245.9 630.1 C247.9 630.0 249.7 630.7 251.8 631.3 C253.9 631.9 256.2 632.8 258.6 633.6 C261.0 634.4 263.6 635.4 266.4 636.0 C269.2 636.6 272.6 637.4 275.2 637.5 C277.8 637.6 279.7 636.9 282.0 636.6 C284.3 636.4 286.9 636.6 288.9 636.0 C290.9 635.4 292.0 633.0 293.8 633.2 C295.6 633.4 297.7 635.6 299.6 637.1 C301.6 638.6 303.7 640.4 305.5 642.4 C307.3 644.4 308.8 647.0 310.4 649.3 C312.0 651.6 313.4 654.1 315.2 656.1 C317.0 658.1 319.1 659.8 321.1 661.4 C323.1 663.0 325.2 665.1 327.0 665.9 C328.8 666.6 330.0 666.3 331.8 665.9 C333.6 665.5 335.9 665.1 337.7 663.3 C339.5 661.5 340.8 657.9 342.6 655.1 C344.4 652.3 346.4 649.0 348.4 646.3 C350.3 643.6 352.3 641.2 354.3 639.1 C356.3 637.0 358.1 634.8 360.2 633.6 C362.3 632.4 364.9 632.0 367.0 631.7 C369.1 631.4 371.1 631.8 372.9 631.7 C374.7 631.6 376.1 630.8 377.7 631.3 C379.3 631.8 381.0 632.9 382.6 634.6 C384.2 636.3 385.9 639.0 387.5 641.4 C389.1 643.8 390.8 646.7 392.4 649.3 C394.0 651.9 396.0 655.4 397.3 657.1 C398.6 658.8 398.7 658.5 400.0 659.4 C401.3 660.3 402.9 661.6 404.9 662.5 C406.8 663.4 409.6 664.3 411.7 664.9 C413.8 665.5 415.7 665.7 417.6 665.9 C419.6 666.1 421.4 665.3 423.4 665.9 C425.3 666.5 427.3 668.7 429.3 669.2 C431.3 669.8 433.2 669.8 435.2 669.2 C437.1 668.7 439.1 667.9 441.0 665.9 C442.9 663.9 444.9 660.0 446.9 657.1 C448.8 654.2 450.8 650.9 452.7 648.3 C454.6 645.7 457.0 642.9 458.6 641.4 C460.2 639.9 461.2 639.3 462.5 639.5 C463.8 639.7 464.8 642.6 466.4 642.4 C468.0 642.2 470.4 639.7 472.3 638.5 C474.2 637.3 476.2 636.1 478.1 635.2 C480.1 634.3 482.1 634.1 484.0 633.2 C485.9 632.4 487.9 630.3 489.5 630.1 C491.1 629.9 492.1 631.5 493.8 632.1 C495.5 632.8 497.5 633.6 499.6 634.0 C501.7 634.4 504.6 633.7 506.4 634.6 C508.2 635.5 509.1 637.8 510.4 639.5 C511.7 641.2 512.8 644.0 514.3 645.0 C515.8 646.0 517.6 644.9 519.1 645.3 C520.6 645.7 521.4 647.4 523.0 647.3 C524.6 647.1 526.6 645.5 528.9 644.4 C531.2 643.3 534.8 640.2 536.7 640.5 C538.7 640.8 539.0 643.7 540.6 646.3 C542.2 648.9 544.5 653.2 546.5 656.1 C548.5 659.0 550.3 661.8 552.3 663.9 C554.2 666.0 556.2 667.7 558.2 668.8 C560.2 669.9 562.2 670.3 564.1 670.7 C566.0 671.1 568.1 670.9 569.9 671.1 C571.7 671.3 572.8 672.0 574.8 671.7 C576.8 671.4 579.5 669.9 581.6 669.2 C583.7 668.6 585.5 668.8 587.5 667.8 C589.5 666.8 591.3 664.9 593.4 663.3 C595.5 661.7 598.4 659.2 600.0 658.0 C601.6 656.8 601.8 657.6 602.9 656.1 C604.0 654.6 605.5 650.4 606.8 648.9 C608.1 647.4 608.2 647.2 610.7 646.9 C613.2 646.6 619.0 646.0 621.5 646.9 C624.0 647.8 623.8 650.2 625.4 652.2 C627.0 654.2 629.2 656.7 631.3 659.0 C633.4 661.3 636.0 663.9 638.1 665.9 C640.2 667.9 640.5 669.9 643.9 670.7 C647.3 671.5 654.5 670.5 658.6 670.7 C662.7 670.9 664.8 671.7 668.4 671.7 C672.0 671.7 677.2 671.5 680.1 670.7 C683.0 669.9 684.1 667.6 685.9 666.8 C687.7 666.0 689.2 666.7 690.8 665.9 C692.4 665.1 693.9 664.2 695.7 661.9 C697.5 659.6 699.5 655.1 701.6 652.2 C703.7 649.3 706.1 646.9 708.4 644.4 C710.7 641.9 713.1 639.3 715.2 637.5 C717.3 635.7 719.3 634.3 721.1 633.6 C722.9 632.9 724.5 633.0 726.0 633.2 C727.5 633.4 728.4 634.9 729.9 634.6 C731.4 634.4 733.2 632.1 734.8 631.7 C736.4 631.3 738.0 631.9 739.6 632.1 C741.2 632.4 742.9 632.4 744.5 633.2 C746.1 634.0 747.8 635.2 749.4 637.1 C751.0 639.0 752.5 642.0 754.3 644.4 C756.1 646.8 758.4 649.1 760.2 651.2 C762.0 653.3 763.5 655.8 765.0 657.1 C766.5 658.4 767.7 658.7 768.9 659.0 C770.1 659.3 771.1 660.0 772.3 659.0 C773.4 658.0 774.7 655.1 775.8 653.2 C776.9 651.3 778.5 648.6 779.1 647.7" fill="none" stroke="#22a7a4" stroke-width="1.05" stroke-linejoin="round"/>
<path d="M3.5 720.9 L7.8 709.2 L12.7 704.3 L17.6 706.8 L21.5 708.8 L25.4 714.0 L30.3 708.2 L35.2 700.4 L40.0 697.0 L43.9 701.3 L47.3 706.8 L51.2 692.0 L54.7 694.5 L58.6 701.0 L62.5 699.0 L66.4 699.0 L69.9 692.6 L73.8 698.4 L77.1 692.0 L80.1 690.6 L83.6 693.5 L86.9 701.3 L91.4 708.8 L95.7 704.3 L99.0 699.8 L102.5 710.7 L107.4 710.7 L113.3 720.5 L117.2 717.0 L121.1 716.6 L125.0 714.0 L131.8 717.9 L135.7 712.7 L139.1 716.0 L143.6 712.1 L150.4 714.6 L158.2 712.1 L162.1 707.2 L165.6 695.5 L169.9 701.3 L172.9 704.9 L176.8 704.9 L180.1 696.5 L183.6 701.0 L187.5 703.7 L191.4 696.5 L195.3 698.4 L200.0 698.4 L204.9 698.4 L209.4 694.5 L216.6 707.6 L222.5 704.9 L227.3 698.4 L231.3 702.3 L235.2 698.4 L239.1 700.4 L243.0 703.3 L246.9 697.0 L250.4 695.1 L253.7 682.8 L256.6 684.7 L260.9 692.6 L264.5 691.6 L268.4 681.8 L271.9 686.7 L276.2 683.8 L280.1 686.1 L284.0 690.6 L286.9 691.6 L290.8 685.3 L294.1 683.4 L297.7 695.1 L301.2 696.5 L304.9 705.6 L308.4 704.3 L312.3 706.8 L315.6 703.7 L319.7 715.0 L323.4 710.1 L327.0 715.4 L333.8 719.9 L340.6 714.6 L345.5 717.9 L349.4 710.7 L353.3 707.6 L356.3 708.8 L360.2 702.3 L364.1 694.5 L368.4 696.5 L377.7 692.6 L381.6 695.1 L385.5 697.0 L389.5 701.3 L393.4 707.6 L396.9 708.8 L400.0 705.3 L403.9 709.2 L407.8 710.7 L415.6 725.2 L419.1 727.7 L422.5 724.4 L427.3 728.3 L430.3 727.7 L435.2 721.9 L441.0 718.9 L444.9 709.5 L449.8 709.5 L455.7 714.0 L461.5 708.8 L466.4 706.8 L471.3 695.5 L477.1 692.0 L482.0 693.9 L485.9 692.0 L489.5 687.3 L492.8 689.6 L496.7 700.4 L500.0 695.9 L503.5 695.9 L507.0 693.5 L514.8 704.3 L518.6 692.0 L526.0 705.3 L528.9 703.7 L532.8 707.6 L536.7 709.2 L540.6 716.0 L544.5 718.5 L548.0 716.0 L551.4 719.3 L558.6 733.0 L566.0 725.8 L569.9 735.5 L574.8 737.5 L580.7 735.5 L585.5 735.5 L588.5 736.5 L593.4 728.7 L597.3 725.8 L600.0 725.2 L602.9 726.7 L606.8 716.0 L611.7 712.7 L616.6 711.1 L621.5 708.8 L625.4 718.5 L629.3 718.5 L633.2 720.9 L639.1 719.9 L645.9 722.8 L651.2 726.3 L654.7 723.2 L658.6 727.1 L661.5 725.8 L667.4 730.6 L673.2 734.2 L677.1 726.3 L681.0 724.8 L687.5 716.0 L691.4 723.2 L696.7 717.9 L701.6 716.6 L707.0 715.4 L710.4 711.1 L713.7 714.0 L717.2 707.6 L722.1 705.3 L727.9 703.3 L736.7 703.3 L739.6 704.9 L743.0 696.5 L746.9 704.9 L750.4 704.9 L753.9 712.1 L757.8 707.6 L761.7 712.1 L765.6 707.6 L768.9 711.1 L772.3 712.1 L779.1 703.3" fill="none" stroke="#1c74c4" stroke-width="1.05" stroke-linejoin="round"/>
<line x1="2.00" y1="2.50" x2="985.46" y2="2.50" stroke="#e6e6e6" stroke-width="1.05"/>
<line x1="2.50" y1="2.00" x2="2.50" y2="741.40" stroke="#e6e6e6" stroke-width="1.05"/>
<line x1="985.00" y1="1.90" x2="985.00" y2="556.60" stroke="#fff" stroke-width="1.3"/>
<line x1="985.00" y1="558.70" x2="985.00" y2="622.50" stroke="#fff" stroke-width="1.3"/>
<line x1="985.00" y1="624.50" x2="985.00" y2="675.40" stroke="#fff" stroke-width="1.3"/>
<line x1="985.00" y1="677.50" x2="985.00" y2="741.40" stroke="#fff" stroke-width="1.3"/>
<line x1="1.90" y1="556.65" x2="985.40" y2="556.65" stroke="#c4c4c4" stroke-width="0.95"/>
<line x1="1.90" y1="558.65" x2="985.40" y2="558.65" stroke="#c4c4c4" stroke-width="0.95"/>
<line x1="1.90" y1="622.50" x2="985.40" y2="622.50" stroke="#e6e6e6" stroke-width="0.95"/>
<line x1="1.90" y1="624.50" x2="985.40" y2="624.50" stroke="#e6e6e6" stroke-width="0.95"/>
<line x1="1.90" y1="675.40" x2="985.40" y2="675.40" stroke="#e6e6e6" stroke-width="0.95"/>
<line x1="1.90" y1="677.50" x2="985.40" y2="677.50" stroke="#e6e6e6" stroke-width="0.95"/>
<line x1="1.90" y1="741.00" x2="985.40" y2="741.00" stroke="#e6e6e6" stroke-width="1.15"/>
<line x1="1.90" y1="557.65" x2="984.50" y2="557.65" stroke="#4a4a4a" stroke-width="1.0"/>
<line x1="1.90" y1="623.50" x2="984.50" y2="623.50" stroke="#4a4a4a" stroke-width="1.0"/>
<line x1="1.90" y1="676.45" x2="984.50" y2="676.45" stroke="#4a4a4a" stroke-width="1.0"/>
<line x1="985.40" y1="7.76" x2="987.60" y2="7.76" stroke="#e6e6e6" stroke-width="0.95"/>
<line x1="985.40" y1="38.12" x2="987.60" y2="38.12" stroke="#e6e6e6" stroke-width="0.95"/>
<line x1="985.40" y1="68.48" x2="987.60" y2="68.48" stroke="#e6e6e6" stroke-width="0.95"/>
<line x1="985.40" y1="98.84" x2="987.60" y2="98.84" stroke="#e6e6e6" stroke-width="0.95"/>
<line x1="985.40" y1="129.20" x2="987.60" y2="129.20" stroke="#e6e6e6" stroke-width="0.95"/>
<line x1="985.40" y1="159.56" x2="987.60" y2="159.56" stroke="#e6e6e6" stroke-width="0.95"/>
<line x1="985.40" y1="189.92" x2="987.60" y2="189.92" stroke="#e6e6e6" stroke-width="0.95"/>
<line x1="985.40" y1="220.28" x2="987.60" y2="220.28" stroke="#e6e6e6" stroke-width="0.95"/>
<line x1="985.40" y1="250.64" x2="987.60" y2="250.64" stroke="#e6e6e6" stroke-width="0.95"/>
<line x1="985.40" y1="281.00" x2="987.60" y2="281.00" stroke="#e6e6e6" stroke-width="0.95"/>
<line x1="985.40" y1="311.36" x2="987.60" y2="311.36" stroke="#e6e6e6" stroke-width="0.95"/>
<line x1="985.40" y1="341.72" x2="987.60" y2="341.72" stroke="#e6e6e6" stroke-width="0.95"/>
<line x1="985.40" y1="372.08" x2="987.60" y2="372.08" stroke="#e6e6e6" stroke-width="0.95"/>
<line x1="985.40" y1="402.44" x2="987.60" y2="402.44" stroke="#e6e6e6" stroke-width="0.95"/>
<line x1="985.40" y1="432.80" x2="987.60" y2="432.80" stroke="#e6e6e6" stroke-width="0.95"/>
<line x1="985.40" y1="463.16" x2="987.60" y2="463.16" stroke="#e6e6e6" stroke-width="0.95"/>
<line x1="985.40" y1="493.52" x2="987.60" y2="493.52" stroke="#e6e6e6" stroke-width="0.95"/>
<line x1="985.40" y1="523.88" x2="987.60" y2="523.88" stroke="#e6e6e6" stroke-width="0.95"/>
<line x1="985.40" y1="554.24" x2="987.60" y2="554.24" stroke="#e6e6e6" stroke-width="0.95"/>
<line x1="985.40" y1="560.60" x2="987.00" y2="560.60" stroke="#e6e6e6" stroke-width="0.95"/>
<line x1="985.40" y1="620.90" x2="987.00" y2="620.90" stroke="#e6e6e6" stroke-width="0.95"/>
<line x1="985.40" y1="626.50" x2="987.00" y2="626.50" stroke="#e6e6e6" stroke-width="0.95"/>
<line x1="985.40" y1="673.50" x2="987.00" y2="673.50" stroke="#e6e6e6" stroke-width="0.95"/>
<line x1="985.40" y1="679.50" x2="987.00" y2="679.50" stroke="#e6e6e6" stroke-width="0.95"/>
<line x1="985.40" y1="738.00" x2="987.00" y2="738.00" stroke="#e6e6e6" stroke-width="0.95"/>
<line x1="3.20" y1="741.00" x2="3.20" y2="744.00" stroke="#e6e6e6" stroke-width="0.95"/>
<line x1="62.08" y1="741.00" x2="62.08" y2="744.00" stroke="#e6e6e6" stroke-width="0.95"/>
<line x1="120.96" y1="741.00" x2="120.96" y2="744.00" stroke="#e6e6e6" stroke-width="0.95"/>
<line x1="179.84" y1="741.00" x2="179.84" y2="744.00" stroke="#e6e6e6" stroke-width="0.95"/>
<line x1="238.72" y1="741.00" x2="238.72" y2="744.00" stroke="#e6e6e6" stroke-width="0.95"/>
<line x1="297.60" y1="741.00" x2="297.60" y2="744.00" stroke="#e6e6e6" stroke-width="0.95"/>
<line x1="356.48" y1="741.00" x2="356.48" y2="744.00" stroke="#e6e6e6" stroke-width="0.95"/>
<line x1="415.36" y1="741.00" x2="415.36" y2="744.00" stroke="#e6e6e6" stroke-width="0.95"/>
<line x1="474.24" y1="741.00" x2="474.24" y2="744.00" stroke="#e6e6e6" stroke-width="0.95"/>
<line x1="533.12" y1="741.00" x2="533.12" y2="744.00" stroke="#e6e6e6" stroke-width="0.95"/>
<line x1="592.00" y1="741.00" x2="592.00" y2="744.00" stroke="#e6e6e6" stroke-width="0.95"/>
<line x1="650.88" y1="741.00" x2="650.88" y2="744.00" stroke="#e6e6e6" stroke-width="0.95"/>
<line x1="709.76" y1="741.00" x2="709.76" y2="744.00" stroke="#e6e6e6" stroke-width="0.95"/>
<line x1="768.64" y1="741.00" x2="768.64" y2="744.00" stroke="#e6e6e6" stroke-width="0.95"/>
<text transform="matrix(1 0.0006 0 1 990.60 10.36)" font-size="9.1" fill="#fff" textLength="30.0" lengthAdjust="spacingAndGlyphs" >1.15070</text>
<text transform="matrix(1 0.0006 0 1 990.60 40.72)" font-size="9.1" fill="#fff" textLength="30.0" lengthAdjust="spacingAndGlyphs" >1.14515</text>
<text transform="matrix(1 0.0006 0 1 990.60 71.08)" font-size="9.1" fill="#fff" textLength="30.0" lengthAdjust="spacingAndGlyphs" >1.13960</text>
<text transform="matrix(1 0.0006 0 1 990.60 101.44)" font-size="9.1" fill="#fff" textLength="30.0" lengthAdjust="spacingAndGlyphs" >1.13405</text>
<text transform="matrix(1 0.0006 0 1 990.60 131.80)" font-size="9.1" fill="#fff" textLength="30.0" lengthAdjust="spacingAndGlyphs" >1.12850</text>
<text transform="matrix(1 0.0006 0 1 990.60 162.16)" font-size="9.1" fill="#fff" textLength="30.0" lengthAdjust="spacingAndGlyphs" >1.12295</text>
<text transform="matrix(1 0.0006 0 1 990.60 192.52)" font-size="9.1" fill="#fff" textLength="30.0" lengthAdjust="spacingAndGlyphs" >1.11755</text>
<text transform="matrix(1 0.0006 0 1 990.60 313.96)" font-size="9.1" fill="#fff" textLength="30.0" lengthAdjust="spacingAndGlyphs" >1.09535</text>
<text transform="matrix(1 0.0006 0 1 990.60 344.32)" font-size="9.1" fill="#fff" textLength="30.0" lengthAdjust="spacingAndGlyphs" >1.08995</text>
<text transform="matrix(1 0.0006 0 1 990.60 374.68)" font-size="9.1" fill="#fff" textLength="30.0" lengthAdjust="spacingAndGlyphs" >1.08440</text>
<text transform="matrix(1 0.0006 0 1 990.60 405.04)" font-size="9.1" fill="#fff" textLength="30.0" lengthAdjust="spacingAndGlyphs" >1.07885</text>
<text transform="matrix(1 0.0006 0 1 990.60 435.40)" font-size="9.1" fill="#fff" textLength="30.0" lengthAdjust="spacingAndGlyphs" >1.07330</text>
<text transform="matrix(1 0.0006 0 1 990.60 465.76)" font-size="9.1" fill="#fff" textLength="30.0" lengthAdjust="spacingAndGlyphs" >1.06775</text>
<text transform="matrix(1 0.0006 0 1 990.60 496.12)" font-size="9.1" fill="#fff" textLength="30.0" lengthAdjust="spacingAndGlyphs" >1.06220</text>
<text transform="matrix(1 0.0006 0 1 990.60 526.48)" font-size="9.1" fill="#fff" textLength="30.0" lengthAdjust="spacingAndGlyphs" >1.05680</text>
<text transform="matrix(1 0.0006 0 1 990.60 556.84)" font-size="9.1" fill="#fff" textLength="30.0" lengthAdjust="spacingAndGlyphs" >1.05125</text>
<rect x="986.0" y="212.2" width="38" height="10.7" fill="#fde4b4"/>
<text transform="matrix(1 0.0006 0 1 990.60 220.70)" font-size="9.1" fill="#000" textLength="30.0" lengthAdjust="spacingAndGlyphs" >1.11227</text>
<rect x="986.0" y="310.0" width="38" height="10.1" fill="#fde4b4"/>
<text transform="matrix(1 0.0006 0 1 990.60 318.30)" font-size="9.1" fill="#000" textLength="30.0" lengthAdjust="spacingAndGlyphs" >1.09456</text>
<rect x="986.0" y="275.1" width="38" height="9.8" fill="#fde4b4"/>
<text transform="matrix(1 0.0006 0 1 990.60 283.40)" font-size="9.1" fill="#000" textLength="30.0" lengthAdjust="spacingAndGlyphs" >1.10100</text>
<rect x="986.0" y="246.3" width="38" height="10.2" fill="#fde4b4"/>
<text transform="matrix(1 0.0006 0 1 990.60 254.90)" font-size="9.1" fill="#000" textLength="30.0" lengthAdjust="spacingAndGlyphs" >1.10619</text>
<rect x="986.0" y="256.5" width="38" height="9.1" fill="#ffffff"/>
<text transform="matrix(1 0.0006 0 1 990.60 263.80)" font-size="9.1" fill="#000" textLength="30.0" lengthAdjust="spacingAndGlyphs" >1.10442</text>
<path d="M5.2 8.2 L12.0 8.2 L8.6 12.0 Z" fill="#fff"/>
<text transform="matrix(1 0.0006 0 1 16.80 12.90)" font-size="9.1" fill="#fff" textLength="49.6" lengthAdjust="spacingAndGlyphs" >EURUSD,H4</text>
<text transform="matrix(1 0.0006 0 1 72.40 12.90)" font-size="9.1" fill="#fff" textLength="29.4" lengthAdjust="spacingAndGlyphs" >1.09850</text>
<text transform="matrix(1 0.0006 0 1 105.50 12.90)" font-size="9.1" fill="#fff" textLength="29.6" lengthAdjust="spacingAndGlyphs" >1.10442</text>
<text transform="matrix(1 0.0006 0 1 138.70 12.90)" font-size="9.1" fill="#fff" textLength="29.6" lengthAdjust="spacingAndGlyphs" >1.09603</text>
<text transform="matrix(1 0.0006 0 1 171.70 12.90)" font-size="9.1" fill="#fff" textLength="29.9" lengthAdjust="spacingAndGlyphs" >1.10442</text>
<text transform="matrix(1 0.0006 0 1 6.80 569.80)" font-size="9.1" fill="#fff" textLength="61.8" lengthAdjust="spacingAndGlyphs" >RSI(14) 63.0012</text>
<text transform="matrix(1 0.0006 0 1 6.80 635.10)" font-size="9.1" fill="#fff" textLength="111.3" lengthAdjust="spacingAndGlyphs" >Stoch(9,6,6) 57.4013 42.1110</text>
<text transform="matrix(1 0.0006 0 1 6.80 688.30)" font-size="9.1" fill="#fff" textLength="94.6" lengthAdjust="spacingAndGlyphs" >Momentum(14) 100.8317</text>
<text transform="matrix(1 0.0006 0 1 988.60 568.40)" font-size="9.1" fill="#fff" textLength="13.4" lengthAdjust="spacingAndGlyphs" >100</text>
<text transform="matrix(1 0.0006 0 1 988.60 581.60)" font-size="9.1" fill="#fff" textLength="8.9" lengthAdjust="spacingAndGlyphs" >70</text>
<text transform="matrix(1 0.0006 0 1 988.60 605.10)" font-size="9.1" fill="#fff" textLength="8.9" lengthAdjust="spacingAndGlyphs" >30</text>
<text transform="matrix(1 0.0006 0 1 988.60 618.80)" font-size="9.1" fill="#fff" textLength="4.5" lengthAdjust="spacingAndGlyphs" >0</text>
<text transform="matrix(1 0.0006 0 1 988.60 633.30)" font-size="9.1" fill="#fff" textLength="13.4" lengthAdjust="spacingAndGlyphs" >100</text>
<text transform="matrix(1 0.0006 0 1 988.60 638.10)" font-size="9.1" fill="#fff" textLength="8.9" lengthAdjust="spacingAndGlyphs" >80</text>
<text transform="matrix(1 0.0006 0 1 988.60 667.20)" font-size="9.1" fill="#fff" textLength="8.9" lengthAdjust="spacingAndGlyphs" >20</text>
<text transform="matrix(1 0.0006 0 1 988.60 672.70)" font-size="9.1" fill="#fff" textLength="4.5" lengthAdjust="spacingAndGlyphs" >0</text>
<text transform="matrix(1 0.0006 0 1 988.60 686.90)" font-size="9.1" fill="#fff" textLength="33.6" lengthAdjust="spacingAndGlyphs" >103.3038</text>
<text transform="matrix(1 0.0006 0 1 988.60 712.50)" font-size="9.1" fill="#fff" textLength="13.4" lengthAdjust="spacingAndGlyphs" >100</text>
<text transform="matrix(1 0.0006 0 1 988.60 737.40)" font-size="9.1" fill="#fff" textLength="29.1" lengthAdjust="spacingAndGlyphs" >96.9614</text>
<text transform="matrix(1 0.0006 0 1 2.60 752.70)" font-size="9.1" fill="#fff" textLength="46.2" lengthAdjust="spacingAndGlyphs" >14 Apr 2015</text>
<text transform="matrix(1 0.0006 0 1 61.48 752.70)" font-size="9.1" fill="#fff" textLength="48.6" lengthAdjust="spacingAndGlyphs" >17 Apr 00:05</text>
<text transform="matrix(1 0.0006 0 1 120.36 752.70)" font-size="9.1" fill="#fff" textLength="48.6" lengthAdjust="spacingAndGlyphs" >21 Apr 16:05</text>
<text transform="matrix(1 0.0006 0 1 179.24 752.70)" font-size="9.1" fill="#fff" textLength="48.6" lengthAdjust="spacingAndGlyphs" >24 Apr 08:05</text>
<text transform="matrix(1 0.0006 0 1 238.12 752.70)" font-size="9.1" fill="#fff" textLength="48.6" lengthAdjust="spacingAndGlyphs" >29 Apr 00:05</text>
<text transform="matrix(1 0.0006 0 1 297.00 752.70)" font-size="9.1" fill="#fff" textLength="47.9" lengthAdjust="spacingAndGlyphs" >1 May 16:05</text>
<text transform="matrix(1 0.0006 0 1 355.88 752.70)" font-size="9.1" fill="#fff" textLength="47.9" lengthAdjust="spacingAndGlyphs" >6 May 08:05</text>
<text transform="matrix(1 0.0006 0 1 414.76 752.70)" font-size="9.1" fill="#fff" textLength="52.4" lengthAdjust="spacingAndGlyphs" >11 May 00:05</text>
<text transform="matrix(1 0.0006 0 1 473.64 752.70)" font-size="9.1" fill="#fff" textLength="52.4" lengthAdjust="spacingAndGlyphs" >13 May 16:05</text>
<text transform="matrix(1 0.0006 0 1 532.52 752.70)" font-size="9.1" fill="#fff" textLength="52.4" lengthAdjust="spacingAndGlyphs" >18 May 08:05</text>
<text transform="matrix(1 0.0006 0 1 591.40 752.70)" font-size="9.1" fill="#fff" textLength="52.4" lengthAdjust="spacingAndGlyphs" >21 May 00:05</text>
<text transform="matrix(1 0.0006 0 1 650.28 752.70)" font-size="9.1" fill="#fff" textLength="52.4" lengthAdjust="spacingAndGlyphs" >25 May 16:05</text>
<text transform="matrix(1 0.0006 0 1 709.16 752.70)" font-size="9.1" fill="#fff" textLength="52.4" lengthAdjust="spacingAndGlyphs" >28 May 08:05</text>
<text transform="matrix(1 0.0006 0 1 768.04 752.70)" font-size="9.1" fill="#fff" textLength="43.2" lengthAdjust="spacingAndGlyphs" >2 Jun 00:05</text>
</svg></body></html>
